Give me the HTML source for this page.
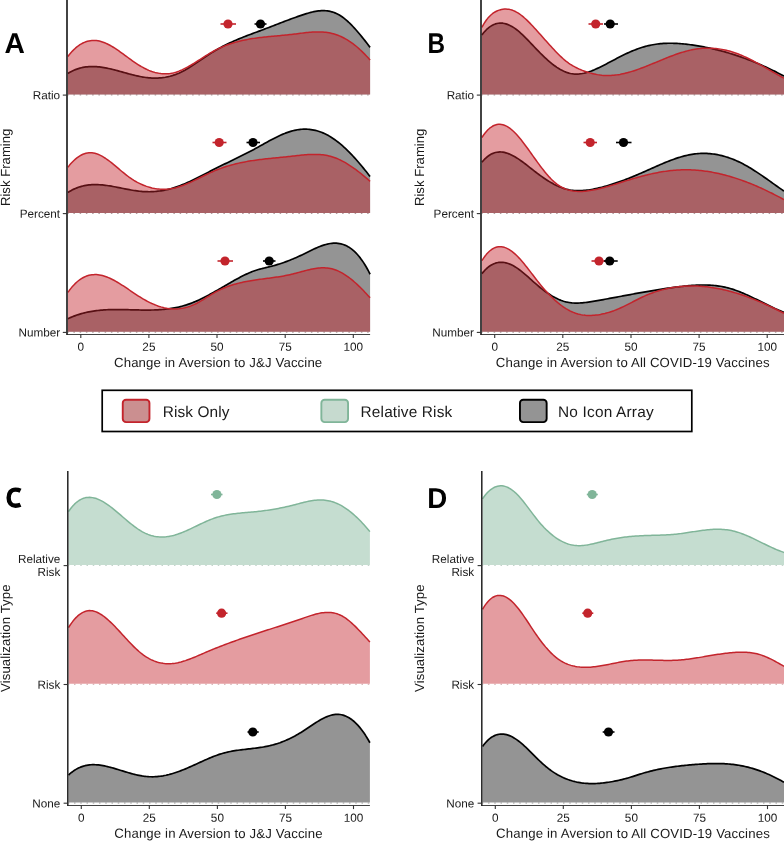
<!DOCTYPE html>
<html><head><meta charset="utf-8"><title>Figure</title>
<style>html,body{margin:0;padding:0;background:#fff}svg{display:block;will-change:transform;opacity:0.999}text{font-family:"Liberation Sans",sans-serif;fill:#1a1a1a;text-rendering:geometricPrecision}</style>
</head><body>
<svg width="784" height="841" viewBox="0 0 784 841">
<rect width="784" height="841" fill="#fff"/>
<!-- Panel A -->
<g>
<path d="M67.9,73.41 L69.4,72.52 L70.9,71.70 L72.4,70.95 L73.9,70.26 L75.4,69.65 L76.9,69.09 L78.4,68.59 L79.9,68.16 L81.4,67.78 L82.9,67.45 L84.4,67.18 L85.9,66.96 L87.4,66.79 L88.9,66.67 L90.4,66.59 L91.9,66.55 L93.4,66.56 L94.9,66.61 L96.4,66.69 L97.9,66.81 L99.4,66.96 L100.9,67.14 L102.4,67.35 L103.9,67.59 L105.4,67.86 L106.9,68.15 L108.4,68.46 L109.9,68.79 L111.4,69.13 L112.9,69.50 L114.4,69.87 L115.9,70.26 L117.4,70.66 L118.9,71.07 L120.4,71.48 L121.9,71.90 L123.4,72.31 L124.9,72.73 L126.4,73.15 L127.9,73.56 L129.4,73.97 L130.9,74.37 L132.4,74.76 L133.9,75.13 L135.4,75.50 L136.9,75.84 L138.4,76.17 L139.9,76.48 L141.4,76.77 L142.9,77.04 L144.4,77.28 L145.9,77.49 L147.4,77.67 L148.9,77.82 L150.4,77.94 L151.9,78.03 L153.4,78.08 L154.9,78.10 L156.4,78.09 L157.9,78.04 L159.4,77.95 L160.9,77.83 L162.4,77.67 L163.9,77.47 L165.4,77.23 L166.9,76.95 L168.4,76.63 L169.9,76.27 L171.4,75.87 L172.9,75.42 L174.4,74.93 L175.9,74.39 L177.4,73.81 L178.9,73.18 L180.4,72.50 L181.9,71.77 L183.4,71.00 L184.9,70.19 L186.4,69.33 L187.9,68.44 L189.4,67.52 L190.9,66.58 L192.4,65.61 L193.9,64.62 L195.4,63.62 L196.9,62.60 L198.4,61.58 L199.9,60.56 L201.4,59.53 L202.9,58.51 L204.4,57.50 L205.9,56.50 L207.4,55.51 L208.9,54.54 L210.4,53.59 L211.9,52.65 L213.4,51.73 L214.9,50.83 L216.4,49.94 L217.9,49.08 L219.4,48.23 L220.9,47.40 L222.4,46.60 L223.9,45.81 L225.4,45.05 L226.9,44.30 L228.4,43.57 L229.9,42.86 L231.4,42.16 L232.9,41.48 L234.4,40.81 L235.9,40.16 L237.4,39.52 L238.9,38.89 L240.4,38.28 L241.9,37.67 L243.4,37.07 L244.9,36.48 L246.4,35.90 L247.9,35.32 L249.4,34.75 L250.9,34.18 L252.4,33.62 L253.9,33.06 L255.4,32.50 L256.9,31.95 L258.4,31.39 L259.9,30.83 L261.4,30.27 L262.9,29.71 L264.4,29.15 L265.9,28.58 L267.4,28.01 L268.9,27.44 L270.4,26.86 L271.9,26.28 L273.4,25.70 L274.9,25.12 L276.4,24.54 L277.9,23.96 L279.4,23.38 L280.9,22.80 L282.4,22.22 L283.9,21.65 L285.4,21.07 L286.9,20.50 L288.4,19.94 L289.9,19.38 L291.4,18.82 L292.9,18.27 L294.4,17.73 L295.9,17.19 L297.4,16.66 L298.9,16.14 L300.4,15.62 L301.9,15.11 L303.4,14.62 L304.9,14.13 L306.4,13.66 L307.9,13.21 L309.4,12.79 L310.9,12.39 L312.4,12.02 L313.9,11.69 L315.4,11.40 L316.9,11.15 L318.4,10.95 L319.9,10.80 L321.4,10.70 L322.9,10.66 L324.4,10.68 L325.9,10.76 L327.4,10.92 L328.9,11.14 L330.4,11.45 L331.9,11.83 L333.4,12.30 L334.9,12.85 L336.4,13.50 L337.9,14.24 L339.4,15.08 L340.9,16.02 L342.4,17.05 L343.9,18.17 L345.4,19.37 L346.9,20.65 L348.4,22.00 L349.9,23.43 L351.4,24.92 L352.9,26.48 L354.4,28.09 L355.9,29.76 L357.4,31.48 L358.9,33.24 L360.4,35.04 L361.9,36.88 L363.4,38.75 L364.9,40.65 L366.4,42.58 L367.9,44.52 L369.4,46.48 L370.1,47.39 L370.1,94.45 L67.9,94.45 Z" fill="#000000" fill-opacity="0.42" stroke="none"/>
<path d="M67.9,73.41 L69.4,72.52 L70.9,71.70 L72.4,70.95 L73.9,70.26 L75.4,69.65 L76.9,69.09 L78.4,68.59 L79.9,68.16 L81.4,67.78 L82.9,67.45 L84.4,67.18 L85.9,66.96 L87.4,66.79 L88.9,66.67 L90.4,66.59 L91.9,66.55 L93.4,66.56 L94.9,66.61 L96.4,66.69 L97.9,66.81 L99.4,66.96 L100.9,67.14 L102.4,67.35 L103.9,67.59 L105.4,67.86 L106.9,68.15 L108.4,68.46 L109.9,68.79 L111.4,69.13 L112.9,69.50 L114.4,69.87 L115.9,70.26 L117.4,70.66 L118.9,71.07 L120.4,71.48 L121.9,71.90 L123.4,72.31 L124.9,72.73 L126.4,73.15 L127.9,73.56 L129.4,73.97 L130.9,74.37 L132.4,74.76 L133.9,75.13 L135.4,75.50 L136.9,75.84 L138.4,76.17 L139.9,76.48 L141.4,76.77 L142.9,77.04 L144.4,77.28 L145.9,77.49 L147.4,77.67 L148.9,77.82 L150.4,77.94 L151.9,78.03 L153.4,78.08 L154.9,78.10 L156.4,78.09 L157.9,78.04 L159.4,77.95 L160.9,77.83 L162.4,77.67 L163.9,77.47 L165.4,77.23 L166.9,76.95 L168.4,76.63 L169.9,76.27 L171.4,75.87 L172.9,75.42 L174.4,74.93 L175.9,74.39 L177.4,73.81 L178.9,73.18 L180.4,72.50 L181.9,71.77 L183.4,71.00 L184.9,70.19 L186.4,69.33 L187.9,68.44 L189.4,67.52 L190.9,66.58 L192.4,65.61 L193.9,64.62 L195.4,63.62 L196.9,62.60 L198.4,61.58 L199.9,60.56 L201.4,59.53 L202.9,58.51 L204.4,57.50 L205.9,56.50 L207.4,55.51 L208.9,54.54 L210.4,53.59 L211.9,52.65 L213.4,51.73 L214.9,50.83 L216.4,49.94 L217.9,49.08 L219.4,48.23 L220.9,47.40 L222.4,46.60 L223.9,45.81 L225.4,45.05 L226.9,44.30 L228.4,43.57 L229.9,42.86 L231.4,42.16 L232.9,41.48 L234.4,40.81 L235.9,40.16 L237.4,39.52 L238.9,38.89 L240.4,38.28 L241.9,37.67 L243.4,37.07 L244.9,36.48 L246.4,35.90 L247.9,35.32 L249.4,34.75 L250.9,34.18 L252.4,33.62 L253.9,33.06 L255.4,32.50 L256.9,31.95 L258.4,31.39 L259.9,30.83 L261.4,30.27 L262.9,29.71 L264.4,29.15 L265.9,28.58 L267.4,28.01 L268.9,27.44 L270.4,26.86 L271.9,26.28 L273.4,25.70 L274.9,25.12 L276.4,24.54 L277.9,23.96 L279.4,23.38 L280.9,22.80 L282.4,22.22 L283.9,21.65 L285.4,21.07 L286.9,20.50 L288.4,19.94 L289.9,19.38 L291.4,18.82 L292.9,18.27 L294.4,17.73 L295.9,17.19 L297.4,16.66 L298.9,16.14 L300.4,15.62 L301.9,15.11 L303.4,14.62 L304.9,14.13 L306.4,13.66 L307.9,13.21 L309.4,12.79 L310.9,12.39 L312.4,12.02 L313.9,11.69 L315.4,11.40 L316.9,11.15 L318.4,10.95 L319.9,10.80 L321.4,10.70 L322.9,10.66 L324.4,10.68 L325.9,10.76 L327.4,10.92 L328.9,11.14 L330.4,11.45 L331.9,11.83 L333.4,12.30 L334.9,12.85 L336.4,13.50 L337.9,14.24 L339.4,15.08 L340.9,16.02 L342.4,17.05 L343.9,18.17 L345.4,19.37 L346.9,20.65 L348.4,22.00 L349.9,23.43 L351.4,24.92 L352.9,26.48 L354.4,28.09 L355.9,29.76 L357.4,31.48 L358.9,33.24 L360.4,35.04 L361.9,36.88 L363.4,38.75 L364.9,40.65 L366.4,42.58 L367.9,44.52 L369.4,46.48 L370.1,47.39" fill="none" stroke="#000000" stroke-width="1.7" stroke-linejoin="round"/>
<path d="M67.9,56.48 L69.4,54.55 L70.9,52.76 L72.4,51.10 L73.9,49.58 L75.4,48.18 L76.9,46.91 L78.4,45.76 L79.9,44.73 L81.4,43.82 L82.9,43.02 L84.4,42.33 L85.9,41.76 L87.4,41.29 L88.9,40.93 L90.4,40.67 L91.9,40.51 L93.4,40.44 L94.9,40.47 L96.4,40.59 L97.9,40.79 L99.4,41.09 L100.9,41.46 L102.4,41.92 L103.9,42.45 L105.4,43.06 L106.9,43.73 L108.4,44.47 L109.9,45.26 L111.4,46.11 L112.9,47.00 L114.4,47.94 L115.9,48.92 L117.4,49.92 L118.9,50.96 L120.4,52.02 L121.9,53.10 L123.4,54.20 L124.9,55.30 L126.4,56.40 L127.9,57.51 L129.4,58.61 L130.9,59.70 L132.4,60.77 L133.9,61.83 L135.4,62.86 L136.9,63.86 L138.4,64.82 L139.9,65.74 L141.4,66.63 L142.9,67.46 L144.4,68.25 L145.9,68.99 L147.4,69.69 L148.9,70.34 L150.4,70.93 L151.9,71.47 L153.4,71.96 L154.9,72.40 L156.4,72.78 L157.9,73.10 L159.4,73.37 L160.9,73.58 L162.4,73.73 L163.9,73.82 L165.4,73.84 L166.9,73.80 L168.4,73.70 L169.9,73.53 L171.4,73.29 L172.9,72.99 L174.4,72.62 L175.9,72.19 L177.4,71.69 L178.9,71.14 L180.4,70.54 L181.9,69.88 L183.4,69.18 L184.9,68.44 L186.4,67.66 L187.9,66.85 L189.4,66.01 L190.9,65.14 L192.4,64.24 L193.9,63.33 L195.4,62.39 L196.9,61.45 L198.4,60.50 L199.9,59.54 L201.4,58.58 L202.9,57.62 L204.4,56.67 L205.9,55.72 L207.4,54.79 L208.9,53.88 L210.4,52.98 L211.9,52.11 L213.4,51.27 L214.9,50.46 L216.4,49.68 L217.9,48.93 L219.4,48.22 L220.9,47.53 L222.4,46.87 L223.9,46.24 L225.4,45.64 L226.9,45.06 L228.4,44.51 L229.9,43.99 L231.4,43.49 L232.9,43.01 L234.4,42.56 L235.9,42.13 L237.4,41.72 L238.9,41.33 L240.4,40.96 L241.9,40.60 L243.4,40.27 L244.9,39.95 L246.4,39.66 L247.9,39.37 L249.4,39.10 L250.9,38.85 L252.4,38.61 L253.9,38.38 L255.4,38.16 L256.9,37.95 L258.4,37.76 L259.9,37.57 L261.4,37.40 L262.9,37.23 L264.4,37.06 L265.9,36.91 L267.4,36.75 L268.9,36.61 L270.4,36.47 L271.9,36.33 L273.4,36.19 L274.9,36.05 L276.4,35.92 L277.9,35.78 L279.4,35.65 L280.9,35.51 L282.4,35.37 L283.9,35.23 L285.4,35.08 L286.9,34.93 L288.4,34.78 L289.9,34.61 L291.4,34.44 L292.9,34.26 L294.4,34.08 L295.9,33.89 L297.4,33.70 L298.9,33.50 L300.4,33.31 L301.9,33.12 L303.4,32.94 L304.9,32.77 L306.4,32.60 L307.9,32.45 L309.4,32.32 L310.9,32.20 L312.4,32.09 L313.9,32.01 L315.4,31.95 L316.9,31.92 L318.4,31.91 L319.9,31.94 L321.4,31.99 L322.9,32.08 L324.4,32.20 L325.9,32.37 L327.4,32.57 L328.9,32.81 L330.4,33.10 L331.9,33.43 L333.4,33.82 L334.9,34.25 L336.4,34.74 L337.9,35.28 L339.4,35.87 L340.9,36.52 L342.4,37.22 L343.9,37.98 L345.4,38.79 L346.9,39.66 L348.4,40.58 L349.9,41.56 L351.4,42.59 L352.9,43.68 L354.4,44.82 L355.9,46.02 L357.4,47.27 L358.9,48.58 L360.4,49.95 L361.9,51.37 L363.4,52.85 L364.9,54.38 L366.4,55.97 L367.9,57.62 L369.4,59.32 L370.1,60.13 L370.1,94.45 L67.9,94.45 Z" fill="#C3242C" fill-opacity="0.45" stroke="none"/>
<path d="M67.9,56.48 L69.4,54.55 L70.9,52.76 L72.4,51.10 L73.9,49.58 L75.4,48.18 L76.9,46.91 L78.4,45.76 L79.9,44.73 L81.4,43.82 L82.9,43.02 L84.4,42.33 L85.9,41.76 L87.4,41.29 L88.9,40.93 L90.4,40.67 L91.9,40.51 L93.4,40.44 L94.9,40.47 L96.4,40.59 L97.9,40.79 L99.4,41.09 L100.9,41.46 L102.4,41.92 L103.9,42.45 L105.4,43.06 L106.9,43.73 L108.4,44.47 L109.9,45.26 L111.4,46.11 L112.9,47.00 L114.4,47.94 L115.9,48.92 L117.4,49.92 L118.9,50.96 L120.4,52.02 L121.9,53.10 L123.4,54.20 L124.9,55.30 L126.4,56.40 L127.9,57.51 L129.4,58.61 L130.9,59.70 L132.4,60.77 L133.9,61.83 L135.4,62.86 L136.9,63.86 L138.4,64.82 L139.9,65.74 L141.4,66.63 L142.9,67.46 L144.4,68.25 L145.9,68.99 L147.4,69.69 L148.9,70.34 L150.4,70.93 L151.9,71.47 L153.4,71.96 L154.9,72.40 L156.4,72.78 L157.9,73.10 L159.4,73.37 L160.9,73.58 L162.4,73.73 L163.9,73.82 L165.4,73.84 L166.9,73.80 L168.4,73.70 L169.9,73.53 L171.4,73.29 L172.9,72.99 L174.4,72.62 L175.9,72.19 L177.4,71.69 L178.9,71.14 L180.4,70.54 L181.9,69.88 L183.4,69.18 L184.9,68.44 L186.4,67.66 L187.9,66.85 L189.4,66.01 L190.9,65.14 L192.4,64.24 L193.9,63.33 L195.4,62.39 L196.9,61.45 L198.4,60.50 L199.9,59.54 L201.4,58.58 L202.9,57.62 L204.4,56.67 L205.9,55.72 L207.4,54.79 L208.9,53.88 L210.4,52.98 L211.9,52.11 L213.4,51.27 L214.9,50.46 L216.4,49.68 L217.9,48.93 L219.4,48.22 L220.9,47.53 L222.4,46.87 L223.9,46.24 L225.4,45.64 L226.9,45.06 L228.4,44.51 L229.9,43.99 L231.4,43.49 L232.9,43.01 L234.4,42.56 L235.9,42.13 L237.4,41.72 L238.9,41.33 L240.4,40.96 L241.9,40.60 L243.4,40.27 L244.9,39.95 L246.4,39.66 L247.9,39.37 L249.4,39.10 L250.9,38.85 L252.4,38.61 L253.9,38.38 L255.4,38.16 L256.9,37.95 L258.4,37.76 L259.9,37.57 L261.4,37.40 L262.9,37.23 L264.4,37.06 L265.9,36.91 L267.4,36.75 L268.9,36.61 L270.4,36.47 L271.9,36.33 L273.4,36.19 L274.9,36.05 L276.4,35.92 L277.9,35.78 L279.4,35.65 L280.9,35.51 L282.4,35.37 L283.9,35.23 L285.4,35.08 L286.9,34.93 L288.4,34.78 L289.9,34.61 L291.4,34.44 L292.9,34.26 L294.4,34.08 L295.9,33.89 L297.4,33.70 L298.9,33.50 L300.4,33.31 L301.9,33.12 L303.4,32.94 L304.9,32.77 L306.4,32.60 L307.9,32.45 L309.4,32.32 L310.9,32.20 L312.4,32.09 L313.9,32.01 L315.4,31.95 L316.9,31.92 L318.4,31.91 L319.9,31.94 L321.4,31.99 L322.9,32.08 L324.4,32.20 L325.9,32.37 L327.4,32.57 L328.9,32.81 L330.4,33.10 L331.9,33.43 L333.4,33.82 L334.9,34.25 L336.4,34.74 L337.9,35.28 L339.4,35.87 L340.9,36.52 L342.4,37.22 L343.9,37.98 L345.4,38.79 L346.9,39.66 L348.4,40.58 L349.9,41.56 L351.4,42.59 L352.9,43.68 L354.4,44.82 L355.9,46.02 L357.4,47.27 L358.9,48.58 L360.4,49.95 L361.9,51.37 L363.4,52.85 L364.9,54.38 L366.4,55.97 L367.9,57.62 L369.4,59.32 L370.1,60.13" fill="none" stroke="#C3242C" stroke-width="1.5" stroke-linejoin="round"/>
<line x1="67.9" y1="95.00" x2="370.1" y2="95.00" stroke="#5b3035" stroke-opacity="0.7" stroke-width="0.7" stroke-dasharray="1.5 4.75" stroke-dashoffset="0.75"/>
<path d="M67.9,192.43 L69.4,191.50 L70.9,190.64 L72.4,189.85 L73.9,189.12 L75.4,188.45 L76.9,187.85 L78.4,187.30 L79.9,186.81 L81.4,186.38 L82.9,186.00 L84.4,185.67 L85.9,185.38 L87.4,185.15 L88.9,184.96 L90.4,184.82 L91.9,184.71 L93.4,184.65 L94.9,184.62 L96.4,184.63 L97.9,184.67 L99.4,184.74 L100.9,184.84 L102.4,184.97 L103.9,185.12 L105.4,185.30 L106.9,185.50 L108.4,185.72 L109.9,185.95 L111.4,186.20 L112.9,186.47 L114.4,186.74 L115.9,187.03 L117.4,187.32 L118.9,187.62 L120.4,187.92 L121.9,188.22 L123.4,188.53 L124.9,188.83 L126.4,189.12 L127.9,189.41 L129.4,189.70 L130.9,189.97 L132.4,190.23 L133.9,190.47 L135.4,190.70 L136.9,190.91 L138.4,191.10 L139.9,191.27 L141.4,191.41 L142.9,191.53 L144.4,191.62 L145.9,191.69 L147.4,191.72 L148.9,191.73 L150.4,191.72 L151.9,191.67 L153.4,191.60 L154.9,191.50 L156.4,191.37 L157.9,191.21 L159.4,191.03 L160.9,190.82 L162.4,190.58 L163.9,190.31 L165.4,190.01 L166.9,189.69 L168.4,189.33 L169.9,188.95 L171.4,188.54 L172.9,188.10 L174.4,187.63 L175.9,187.13 L177.4,186.61 L178.9,186.06 L180.4,185.49 L181.9,184.90 L183.4,184.29 L184.9,183.66 L186.4,183.01 L187.9,182.34 L189.4,181.65 L190.9,180.96 L192.4,180.24 L193.9,179.52 L195.4,178.79 L196.9,178.04 L198.4,177.29 L199.9,176.53 L201.4,175.76 L202.9,174.99 L204.4,174.22 L205.9,173.45 L207.4,172.67 L208.9,171.89 L210.4,171.12 L211.9,170.35 L213.4,169.58 L214.9,168.82 L216.4,168.07 L217.9,167.32 L219.4,166.57 L220.9,165.83 L222.4,165.09 L223.9,164.36 L225.4,163.63 L226.9,162.89 L228.4,162.16 L229.9,161.44 L231.4,160.71 L232.9,159.98 L234.4,159.25 L235.9,158.51 L237.4,157.78 L238.9,157.04 L240.4,156.30 L241.9,155.55 L243.4,154.81 L244.9,154.05 L246.4,153.29 L247.9,152.52 L249.4,151.75 L250.9,150.97 L252.4,150.18 L253.9,149.38 L255.4,148.57 L256.9,147.76 L258.4,146.93 L259.9,146.10 L261.4,145.26 L262.9,144.43 L264.4,143.59 L265.9,142.76 L267.4,141.93 L268.9,141.11 L270.4,140.30 L271.9,139.49 L273.4,138.71 L274.9,137.94 L276.4,137.18 L277.9,136.45 L279.4,135.74 L280.9,135.06 L282.4,134.40 L283.9,133.77 L285.4,133.17 L286.9,132.61 L288.4,132.08 L289.9,131.59 L291.4,131.14 L292.9,130.73 L294.4,130.37 L295.9,130.05 L297.4,129.78 L298.9,129.56 L300.4,129.39 L301.9,129.27 L303.4,129.19 L304.9,129.16 L306.4,129.19 L307.9,129.26 L309.4,129.39 L310.9,129.57 L312.4,129.79 L313.9,130.07 L315.4,130.41 L316.9,130.80 L318.4,131.24 L319.9,131.73 L321.4,132.28 L322.9,132.88 L324.4,133.54 L325.9,134.26 L327.4,135.03 L328.9,135.86 L330.4,136.75 L331.9,137.69 L333.4,138.68 L334.9,139.73 L336.4,140.83 L337.9,141.98 L339.4,143.18 L340.9,144.42 L342.4,145.72 L343.9,147.06 L345.4,148.44 L346.9,149.87 L348.4,151.34 L349.9,152.85 L351.4,154.40 L352.9,155.99 L354.4,157.62 L355.9,159.28 L357.4,160.98 L358.9,162.71 L360.4,164.47 L361.9,166.27 L363.4,168.09 L364.9,169.95 L366.4,171.83 L367.9,173.74 L369.4,175.67 L370.1,176.58 L370.1,212.95 L67.9,212.95 Z" fill="#000000" fill-opacity="0.42" stroke="none"/>
<path d="M67.9,192.43 L69.4,191.50 L70.9,190.64 L72.4,189.85 L73.9,189.12 L75.4,188.45 L76.9,187.85 L78.4,187.30 L79.9,186.81 L81.4,186.38 L82.9,186.00 L84.4,185.67 L85.9,185.38 L87.4,185.15 L88.9,184.96 L90.4,184.82 L91.9,184.71 L93.4,184.65 L94.9,184.62 L96.4,184.63 L97.9,184.67 L99.4,184.74 L100.9,184.84 L102.4,184.97 L103.9,185.12 L105.4,185.30 L106.9,185.50 L108.4,185.72 L109.9,185.95 L111.4,186.20 L112.9,186.47 L114.4,186.74 L115.9,187.03 L117.4,187.32 L118.9,187.62 L120.4,187.92 L121.9,188.22 L123.4,188.53 L124.9,188.83 L126.4,189.12 L127.9,189.41 L129.4,189.70 L130.9,189.97 L132.4,190.23 L133.9,190.47 L135.4,190.70 L136.9,190.91 L138.4,191.10 L139.9,191.27 L141.4,191.41 L142.9,191.53 L144.4,191.62 L145.9,191.69 L147.4,191.72 L148.9,191.73 L150.4,191.72 L151.9,191.67 L153.4,191.60 L154.9,191.50 L156.4,191.37 L157.9,191.21 L159.4,191.03 L160.9,190.82 L162.4,190.58 L163.9,190.31 L165.4,190.01 L166.9,189.69 L168.4,189.33 L169.9,188.95 L171.4,188.54 L172.9,188.10 L174.4,187.63 L175.9,187.13 L177.4,186.61 L178.9,186.06 L180.4,185.49 L181.9,184.90 L183.4,184.29 L184.9,183.66 L186.4,183.01 L187.9,182.34 L189.4,181.65 L190.9,180.96 L192.4,180.24 L193.9,179.52 L195.4,178.79 L196.9,178.04 L198.4,177.29 L199.9,176.53 L201.4,175.76 L202.9,174.99 L204.4,174.22 L205.9,173.45 L207.4,172.67 L208.9,171.89 L210.4,171.12 L211.9,170.35 L213.4,169.58 L214.9,168.82 L216.4,168.07 L217.9,167.32 L219.4,166.57 L220.9,165.83 L222.4,165.09 L223.9,164.36 L225.4,163.63 L226.9,162.89 L228.4,162.16 L229.9,161.44 L231.4,160.71 L232.9,159.98 L234.4,159.25 L235.9,158.51 L237.4,157.78 L238.9,157.04 L240.4,156.30 L241.9,155.55 L243.4,154.81 L244.9,154.05 L246.4,153.29 L247.9,152.52 L249.4,151.75 L250.9,150.97 L252.4,150.18 L253.9,149.38 L255.4,148.57 L256.9,147.76 L258.4,146.93 L259.9,146.10 L261.4,145.26 L262.9,144.43 L264.4,143.59 L265.9,142.76 L267.4,141.93 L268.9,141.11 L270.4,140.30 L271.9,139.49 L273.4,138.71 L274.9,137.94 L276.4,137.18 L277.9,136.45 L279.4,135.74 L280.9,135.06 L282.4,134.40 L283.9,133.77 L285.4,133.17 L286.9,132.61 L288.4,132.08 L289.9,131.59 L291.4,131.14 L292.9,130.73 L294.4,130.37 L295.9,130.05 L297.4,129.78 L298.9,129.56 L300.4,129.39 L301.9,129.27 L303.4,129.19 L304.9,129.16 L306.4,129.19 L307.9,129.26 L309.4,129.39 L310.9,129.57 L312.4,129.79 L313.9,130.07 L315.4,130.41 L316.9,130.80 L318.4,131.24 L319.9,131.73 L321.4,132.28 L322.9,132.88 L324.4,133.54 L325.9,134.26 L327.4,135.03 L328.9,135.86 L330.4,136.75 L331.9,137.69 L333.4,138.68 L334.9,139.73 L336.4,140.83 L337.9,141.98 L339.4,143.18 L340.9,144.42 L342.4,145.72 L343.9,147.06 L345.4,148.44 L346.9,149.87 L348.4,151.34 L349.9,152.85 L351.4,154.40 L352.9,155.99 L354.4,157.62 L355.9,159.28 L357.4,160.98 L358.9,162.71 L360.4,164.47 L361.9,166.27 L363.4,168.09 L364.9,169.95 L366.4,171.83 L367.9,173.74 L369.4,175.67 L370.1,176.58" fill="none" stroke="#000000" stroke-width="1.7" stroke-linejoin="round"/>
<path d="M67.9,167.22 L69.4,165.35 L70.9,163.61 L72.4,162.00 L73.9,160.51 L75.4,159.15 L76.9,157.92 L78.4,156.82 L79.9,155.84 L81.4,155.00 L82.9,154.28 L84.4,153.70 L85.9,153.24 L87.4,152.91 L88.9,152.72 L90.4,152.65 L91.9,152.72 L93.4,152.91 L94.9,153.23 L96.4,153.66 L97.9,154.20 L99.4,154.84 L100.9,155.57 L102.4,156.39 L103.9,157.29 L105.4,158.25 L106.9,159.28 L108.4,160.37 L109.9,161.50 L111.4,162.68 L112.9,163.89 L114.4,165.13 L115.9,166.38 L117.4,167.65 L118.9,168.93 L120.4,170.20 L121.9,171.46 L123.4,172.70 L124.9,173.92 L126.4,175.11 L127.9,176.26 L129.4,177.36 L130.9,178.40 L132.4,179.40 L133.9,180.34 L135.4,181.23 L136.9,182.07 L138.4,182.86 L139.9,183.60 L141.4,184.30 L142.9,184.94 L144.4,185.55 L145.9,186.11 L147.4,186.62 L148.9,187.09 L150.4,187.51 L151.9,187.90 L153.4,188.23 L154.9,188.52 L156.4,188.76 L157.9,188.96 L159.4,189.11 L160.9,189.22 L162.4,189.28 L163.9,189.29 L165.4,189.25 L166.9,189.17 L168.4,189.04 L169.9,188.86 L171.4,188.63 L172.9,188.36 L174.4,188.03 L175.9,187.66 L177.4,187.25 L178.9,186.80 L180.4,186.32 L181.9,185.79 L183.4,185.24 L184.9,184.65 L186.4,184.04 L187.9,183.40 L189.4,182.75 L190.9,182.07 L192.4,181.37 L193.9,180.66 L195.4,179.94 L196.9,179.21 L198.4,178.48 L199.9,177.74 L201.4,176.99 L202.9,176.25 L204.4,175.52 L205.9,174.79 L207.4,174.06 L208.9,173.35 L210.4,172.66 L211.9,171.98 L213.4,171.32 L214.9,170.68 L216.4,170.06 L217.9,169.46 L219.4,168.89 L220.9,168.34 L222.4,167.80 L223.9,167.29 L225.4,166.80 L226.9,166.32 L228.4,165.87 L229.9,165.43 L231.4,165.01 L232.9,164.60 L234.4,164.21 L235.9,163.84 L237.4,163.48 L238.9,163.14 L240.4,162.81 L241.9,162.49 L243.4,162.19 L244.9,161.90 L246.4,161.62 L247.9,161.36 L249.4,161.10 L250.9,160.85 L252.4,160.62 L253.9,160.39 L255.4,160.18 L256.9,159.97 L258.4,159.77 L259.9,159.57 L261.4,159.39 L262.9,159.21 L264.4,159.03 L265.9,158.86 L267.4,158.70 L268.9,158.53 L270.4,158.38 L271.9,158.22 L273.4,158.07 L274.9,157.92 L276.4,157.77 L277.9,157.63 L279.4,157.48 L280.9,157.33 L282.4,157.19 L283.9,157.04 L285.4,156.89 L286.9,156.74 L288.4,156.58 L289.9,156.42 L291.4,156.26 L292.9,156.09 L294.4,155.93 L295.9,155.76 L297.4,155.59 L298.9,155.42 L300.4,155.26 L301.9,155.11 L303.4,154.96 L304.9,154.83 L306.4,154.71 L307.9,154.60 L309.4,154.52 L310.9,154.45 L312.4,154.40 L313.9,154.38 L315.4,154.38 L316.9,154.41 L318.4,154.48 L319.9,154.57 L321.4,154.70 L322.9,154.86 L324.4,155.06 L325.9,155.30 L327.4,155.59 L328.9,155.91 L330.4,156.29 L331.9,156.71 L333.4,157.18 L334.9,157.71 L336.4,158.29 L337.9,158.91 L339.4,159.58 L340.9,160.30 L342.4,161.07 L343.9,161.88 L345.4,162.72 L346.9,163.61 L348.4,164.54 L349.9,165.51 L351.4,166.51 L352.9,167.54 L354.4,168.61 L355.9,169.71 L357.4,170.84 L358.9,171.99 L360.4,173.17 L361.9,174.38 L363.4,175.61 L364.9,176.87 L366.4,178.14 L367.9,179.43 L369.4,180.74 L370.1,181.36 L370.1,212.95 L67.9,212.95 Z" fill="#C3242C" fill-opacity="0.45" stroke="none"/>
<path d="M67.9,167.22 L69.4,165.35 L70.9,163.61 L72.4,162.00 L73.9,160.51 L75.4,159.15 L76.9,157.92 L78.4,156.82 L79.9,155.84 L81.4,155.00 L82.9,154.28 L84.4,153.70 L85.9,153.24 L87.4,152.91 L88.9,152.72 L90.4,152.65 L91.9,152.72 L93.4,152.91 L94.9,153.23 L96.4,153.66 L97.9,154.20 L99.4,154.84 L100.9,155.57 L102.4,156.39 L103.9,157.29 L105.4,158.25 L106.9,159.28 L108.4,160.37 L109.9,161.50 L111.4,162.68 L112.9,163.89 L114.4,165.13 L115.9,166.38 L117.4,167.65 L118.9,168.93 L120.4,170.20 L121.9,171.46 L123.4,172.70 L124.9,173.92 L126.4,175.11 L127.9,176.26 L129.4,177.36 L130.9,178.40 L132.4,179.40 L133.9,180.34 L135.4,181.23 L136.9,182.07 L138.4,182.86 L139.9,183.60 L141.4,184.30 L142.9,184.94 L144.4,185.55 L145.9,186.11 L147.4,186.62 L148.9,187.09 L150.4,187.51 L151.9,187.90 L153.4,188.23 L154.9,188.52 L156.4,188.76 L157.9,188.96 L159.4,189.11 L160.9,189.22 L162.4,189.28 L163.9,189.29 L165.4,189.25 L166.9,189.17 L168.4,189.04 L169.9,188.86 L171.4,188.63 L172.9,188.36 L174.4,188.03 L175.9,187.66 L177.4,187.25 L178.9,186.80 L180.4,186.32 L181.9,185.79 L183.4,185.24 L184.9,184.65 L186.4,184.04 L187.9,183.40 L189.4,182.75 L190.9,182.07 L192.4,181.37 L193.9,180.66 L195.4,179.94 L196.9,179.21 L198.4,178.48 L199.9,177.74 L201.4,176.99 L202.9,176.25 L204.4,175.52 L205.9,174.79 L207.4,174.06 L208.9,173.35 L210.4,172.66 L211.9,171.98 L213.4,171.32 L214.9,170.68 L216.4,170.06 L217.9,169.46 L219.4,168.89 L220.9,168.34 L222.4,167.80 L223.9,167.29 L225.4,166.80 L226.9,166.32 L228.4,165.87 L229.9,165.43 L231.4,165.01 L232.9,164.60 L234.4,164.21 L235.9,163.84 L237.4,163.48 L238.9,163.14 L240.4,162.81 L241.9,162.49 L243.4,162.19 L244.9,161.90 L246.4,161.62 L247.9,161.36 L249.4,161.10 L250.9,160.85 L252.4,160.62 L253.9,160.39 L255.4,160.18 L256.9,159.97 L258.4,159.77 L259.9,159.57 L261.4,159.39 L262.9,159.21 L264.4,159.03 L265.9,158.86 L267.4,158.70 L268.9,158.53 L270.4,158.38 L271.9,158.22 L273.4,158.07 L274.9,157.92 L276.4,157.77 L277.9,157.63 L279.4,157.48 L280.9,157.33 L282.4,157.19 L283.9,157.04 L285.4,156.89 L286.9,156.74 L288.4,156.58 L289.9,156.42 L291.4,156.26 L292.9,156.09 L294.4,155.93 L295.9,155.76 L297.4,155.59 L298.9,155.42 L300.4,155.26 L301.9,155.11 L303.4,154.96 L304.9,154.83 L306.4,154.71 L307.9,154.60 L309.4,154.52 L310.9,154.45 L312.4,154.40 L313.9,154.38 L315.4,154.38 L316.9,154.41 L318.4,154.48 L319.9,154.57 L321.4,154.70 L322.9,154.86 L324.4,155.06 L325.9,155.30 L327.4,155.59 L328.9,155.91 L330.4,156.29 L331.9,156.71 L333.4,157.18 L334.9,157.71 L336.4,158.29 L337.9,158.91 L339.4,159.58 L340.9,160.30 L342.4,161.07 L343.9,161.88 L345.4,162.72 L346.9,163.61 L348.4,164.54 L349.9,165.51 L351.4,166.51 L352.9,167.54 L354.4,168.61 L355.9,169.71 L357.4,170.84 L358.9,171.99 L360.4,173.17 L361.9,174.38 L363.4,175.61 L364.9,176.87 L366.4,178.14 L367.9,179.43 L369.4,180.74 L370.1,181.36" fill="none" stroke="#C3242C" stroke-width="1.5" stroke-linejoin="round"/>
<line x1="67.9" y1="213.50" x2="370.1" y2="213.50" stroke="#5b3035" stroke-opacity="0.7" stroke-width="0.7" stroke-dasharray="1.5 4.75" stroke-dashoffset="0.75"/>
<path d="M67.9,318.70 L69.4,318.01 L70.9,317.36 L72.4,316.74 L73.9,316.15 L75.4,315.59 L76.9,315.07 L78.4,314.57 L79.9,314.11 L81.4,313.67 L82.9,313.26 L84.4,312.87 L85.9,312.52 L87.4,312.18 L88.9,311.88 L90.4,311.59 L91.9,311.33 L93.4,311.09 L94.9,310.87 L96.4,310.67 L97.9,310.49 L99.4,310.33 L100.9,310.19 L102.4,310.06 L103.9,309.95 L105.4,309.85 L106.9,309.77 L108.4,309.71 L109.9,309.65 L111.4,309.61 L112.9,309.58 L114.4,309.56 L115.9,309.55 L117.4,309.54 L118.9,309.55 L120.4,309.56 L121.9,309.58 L123.4,309.61 L124.9,309.63 L126.4,309.67 L127.9,309.70 L129.4,309.74 L130.9,309.78 L132.4,309.82 L133.9,309.86 L135.4,309.90 L136.9,309.94 L138.4,309.97 L139.9,310.00 L141.4,310.03 L142.9,310.05 L144.4,310.07 L145.9,310.07 L147.4,310.08 L148.9,310.07 L150.4,310.05 L151.9,310.02 L153.4,309.99 L154.9,309.94 L156.4,309.88 L157.9,309.80 L159.4,309.71 L160.9,309.61 L162.4,309.49 L163.9,309.36 L165.4,309.20 L166.9,309.03 L168.4,308.85 L169.9,308.64 L171.4,308.41 L172.9,308.17 L174.4,307.90 L175.9,307.61 L177.4,307.30 L178.9,306.96 L180.4,306.60 L181.9,306.21 L183.4,305.80 L184.9,305.36 L186.4,304.90 L187.9,304.40 L189.4,303.88 L190.9,303.33 L192.4,302.75 L193.9,302.14 L195.4,301.51 L196.9,300.86 L198.4,300.18 L199.9,299.48 L201.4,298.76 L202.9,298.02 L204.4,297.27 L205.9,296.50 L207.4,295.71 L208.9,294.91 L210.4,294.09 L211.9,293.27 L213.4,292.43 L214.9,291.59 L216.4,290.73 L217.9,289.87 L219.4,289.01 L220.9,288.14 L222.4,287.27 L223.9,286.40 L225.4,285.53 L226.9,284.65 L228.4,283.79 L229.9,282.92 L231.4,282.06 L232.9,281.20 L234.4,280.36 L235.9,279.52 L237.4,278.70 L238.9,277.89 L240.4,277.10 L241.9,276.32 L243.4,275.57 L244.9,274.83 L246.4,274.12 L247.9,273.44 L249.4,272.79 L250.9,272.16 L252.4,271.57 L253.9,271.01 L255.4,270.48 L256.9,269.99 L258.4,269.54 L259.9,269.12 L261.4,268.72 L262.9,268.33 L264.4,267.96 L265.9,267.60 L267.4,267.24 L268.9,266.88 L270.4,266.51 L271.9,266.13 L273.4,265.73 L274.9,265.32 L276.4,264.88 L277.9,264.43 L279.4,263.96 L280.9,263.47 L282.4,262.96 L283.9,262.44 L285.4,261.90 L286.9,261.34 L288.4,260.77 L289.9,260.18 L291.4,259.58 L292.9,258.96 L294.4,258.32 L295.9,257.67 L297.4,257.00 L298.9,256.32 L300.4,255.62 L301.9,254.91 L303.4,254.19 L304.9,253.45 L306.4,252.71 L307.9,251.97 L309.4,251.23 L310.9,250.49 L312.4,249.77 L313.9,249.06 L315.4,248.38 L316.9,247.71 L318.4,247.08 L319.9,246.47 L321.4,245.91 L322.9,245.38 L324.4,244.90 L325.9,244.47 L327.4,244.10 L328.9,243.78 L330.4,243.52 L331.9,243.33 L333.4,243.22 L334.9,243.18 L336.4,243.21 L337.9,243.33 L339.4,243.54 L340.9,243.85 L342.4,244.24 L343.9,244.74 L345.4,245.35 L346.9,246.06 L348.4,246.89 L349.9,247.84 L351.4,248.91 L352.9,250.10 L354.4,251.43 L355.9,252.89 L357.4,254.50 L358.9,256.24 L360.4,258.14 L361.9,260.18 L363.4,262.39 L364.9,264.75 L366.4,267.28 L367.9,269.98 L369.4,272.85 L370.1,274.25 L370.1,331.70 L67.9,331.70 Z" fill="#000000" fill-opacity="0.42" stroke="none"/>
<path d="M67.9,318.70 L69.4,318.01 L70.9,317.36 L72.4,316.74 L73.9,316.15 L75.4,315.59 L76.9,315.07 L78.4,314.57 L79.9,314.11 L81.4,313.67 L82.9,313.26 L84.4,312.87 L85.9,312.52 L87.4,312.18 L88.9,311.88 L90.4,311.59 L91.9,311.33 L93.4,311.09 L94.9,310.87 L96.4,310.67 L97.9,310.49 L99.4,310.33 L100.9,310.19 L102.4,310.06 L103.9,309.95 L105.4,309.85 L106.9,309.77 L108.4,309.71 L109.9,309.65 L111.4,309.61 L112.9,309.58 L114.4,309.56 L115.9,309.55 L117.4,309.54 L118.9,309.55 L120.4,309.56 L121.9,309.58 L123.4,309.61 L124.9,309.63 L126.4,309.67 L127.9,309.70 L129.4,309.74 L130.9,309.78 L132.4,309.82 L133.9,309.86 L135.4,309.90 L136.9,309.94 L138.4,309.97 L139.9,310.00 L141.4,310.03 L142.9,310.05 L144.4,310.07 L145.9,310.07 L147.4,310.08 L148.9,310.07 L150.4,310.05 L151.9,310.02 L153.4,309.99 L154.9,309.94 L156.4,309.88 L157.9,309.80 L159.4,309.71 L160.9,309.61 L162.4,309.49 L163.9,309.36 L165.4,309.20 L166.9,309.03 L168.4,308.85 L169.9,308.64 L171.4,308.41 L172.9,308.17 L174.4,307.90 L175.9,307.61 L177.4,307.30 L178.9,306.96 L180.4,306.60 L181.9,306.21 L183.4,305.80 L184.9,305.36 L186.4,304.90 L187.9,304.40 L189.4,303.88 L190.9,303.33 L192.4,302.75 L193.9,302.14 L195.4,301.51 L196.9,300.86 L198.4,300.18 L199.9,299.48 L201.4,298.76 L202.9,298.02 L204.4,297.27 L205.9,296.50 L207.4,295.71 L208.9,294.91 L210.4,294.09 L211.9,293.27 L213.4,292.43 L214.9,291.59 L216.4,290.73 L217.9,289.87 L219.4,289.01 L220.9,288.14 L222.4,287.27 L223.9,286.40 L225.4,285.53 L226.9,284.65 L228.4,283.79 L229.9,282.92 L231.4,282.06 L232.9,281.20 L234.4,280.36 L235.9,279.52 L237.4,278.70 L238.9,277.89 L240.4,277.10 L241.9,276.32 L243.4,275.57 L244.9,274.83 L246.4,274.12 L247.9,273.44 L249.4,272.79 L250.9,272.16 L252.4,271.57 L253.9,271.01 L255.4,270.48 L256.9,269.99 L258.4,269.54 L259.9,269.12 L261.4,268.72 L262.9,268.33 L264.4,267.96 L265.9,267.60 L267.4,267.24 L268.9,266.88 L270.4,266.51 L271.9,266.13 L273.4,265.73 L274.9,265.32 L276.4,264.88 L277.9,264.43 L279.4,263.96 L280.9,263.47 L282.4,262.96 L283.9,262.44 L285.4,261.90 L286.9,261.34 L288.4,260.77 L289.9,260.18 L291.4,259.58 L292.9,258.96 L294.4,258.32 L295.9,257.67 L297.4,257.00 L298.9,256.32 L300.4,255.62 L301.9,254.91 L303.4,254.19 L304.9,253.45 L306.4,252.71 L307.9,251.97 L309.4,251.23 L310.9,250.49 L312.4,249.77 L313.9,249.06 L315.4,248.38 L316.9,247.71 L318.4,247.08 L319.9,246.47 L321.4,245.91 L322.9,245.38 L324.4,244.90 L325.9,244.47 L327.4,244.10 L328.9,243.78 L330.4,243.52 L331.9,243.33 L333.4,243.22 L334.9,243.18 L336.4,243.21 L337.9,243.33 L339.4,243.54 L340.9,243.85 L342.4,244.24 L343.9,244.74 L345.4,245.35 L346.9,246.06 L348.4,246.89 L349.9,247.84 L351.4,248.91 L352.9,250.10 L354.4,251.43 L355.9,252.89 L357.4,254.50 L358.9,256.24 L360.4,258.14 L361.9,260.18 L363.4,262.39 L364.9,264.75 L366.4,267.28 L367.9,269.98 L369.4,272.85 L370.1,274.25" fill="none" stroke="#000000" stroke-width="1.7" stroke-linejoin="round"/>
<path d="M67.9,292.42 L69.4,290.32 L70.9,288.37 L72.4,286.57 L73.9,284.91 L75.4,283.38 L76.9,282.00 L78.4,280.74 L79.9,279.62 L81.4,278.62 L82.9,277.73 L84.4,276.97 L85.9,276.32 L87.4,275.78 L88.9,275.34 L90.4,275.01 L91.9,274.77 L93.4,274.63 L94.9,274.58 L96.4,274.62 L97.9,274.74 L99.4,274.94 L100.9,275.22 L102.4,275.57 L103.9,275.99 L105.4,276.47 L106.9,277.02 L108.4,277.62 L109.9,278.27 L111.4,278.98 L112.9,279.73 L114.4,280.53 L115.9,281.36 L117.4,282.23 L118.9,283.13 L120.4,284.06 L121.9,285.01 L123.4,285.98 L124.9,286.97 L126.4,287.97 L127.9,288.98 L129.4,290.00 L130.9,291.02 L132.4,292.04 L133.9,293.05 L135.4,294.05 L136.9,295.04 L138.4,296.01 L139.9,296.96 L141.4,297.89 L142.9,298.78 L144.4,299.65 L145.9,300.49 L147.4,301.30 L148.9,302.07 L150.4,302.80 L151.9,303.51 L153.4,304.17 L154.9,304.80 L156.4,305.38 L157.9,305.93 L159.4,306.44 L160.9,306.90 L162.4,307.32 L163.9,307.69 L165.4,308.02 L166.9,308.31 L168.4,308.54 L169.9,308.72 L171.4,308.86 L172.9,308.94 L174.4,308.97 L175.9,308.95 L177.4,308.88 L178.9,308.75 L180.4,308.57 L181.9,308.35 L183.4,308.06 L184.9,307.73 L186.4,307.35 L187.9,306.91 L189.4,306.42 L190.9,305.88 L192.4,305.29 L193.9,304.65 L195.4,303.96 L196.9,303.22 L198.4,302.42 L199.9,301.58 L201.4,300.70 L202.9,299.79 L204.4,298.87 L205.9,297.92 L207.4,296.98 L208.9,296.03 L210.4,295.10 L211.9,294.18 L213.4,293.29 L214.9,292.44 L216.4,291.62 L217.9,290.84 L219.4,290.09 L220.9,289.38 L222.4,288.70 L223.9,288.06 L225.4,287.44 L226.9,286.86 L228.4,286.30 L229.9,285.77 L231.4,285.27 L232.9,284.80 L234.4,284.34 L235.9,283.92 L237.4,283.51 L238.9,283.12 L240.4,282.76 L241.9,282.41 L243.4,282.08 L244.9,281.77 L246.4,281.47 L247.9,281.19 L249.4,280.92 L250.9,280.67 L252.4,280.42 L253.9,280.19 L255.4,279.96 L256.9,279.74 L258.4,279.53 L259.9,279.32 L261.4,279.12 L262.9,278.92 L264.4,278.73 L265.9,278.53 L267.4,278.34 L268.9,278.14 L270.4,277.95 L271.9,277.74 L273.4,277.54 L274.9,277.33 L276.4,277.11 L277.9,276.89 L279.4,276.65 L280.9,276.41 L282.4,276.16 L283.9,275.89 L285.4,275.61 L286.9,275.32 L288.4,275.01 L289.9,274.68 L291.4,274.34 L292.9,273.98 L294.4,273.60 L295.9,273.21 L297.4,272.81 L298.9,272.40 L300.4,271.99 L301.9,271.58 L303.4,271.17 L304.9,270.77 L306.4,270.38 L307.9,270.01 L309.4,269.65 L310.9,269.32 L312.4,269.01 L313.9,268.72 L315.4,268.47 L316.9,268.26 L318.4,268.08 L319.9,267.95 L321.4,267.86 L322.9,267.82 L324.4,267.84 L325.9,267.91 L327.4,268.04 L328.9,268.23 L330.4,268.49 L331.9,268.82 L333.4,269.22 L334.9,269.70 L336.4,270.26 L337.9,270.88 L339.4,271.58 L340.9,272.35 L342.4,273.18 L343.9,274.07 L345.4,275.03 L346.9,276.05 L348.4,277.12 L349.9,278.25 L351.4,279.43 L352.9,280.67 L354.4,281.96 L355.9,283.29 L357.4,284.67 L358.9,286.09 L360.4,287.55 L361.9,289.05 L363.4,290.59 L364.9,292.16 L366.4,293.76 L367.9,295.40 L369.4,297.06 L370.1,297.85 L370.1,331.70 L67.9,331.70 Z" fill="#C3242C" fill-opacity="0.45" stroke="none"/>
<path d="M67.9,292.42 L69.4,290.32 L70.9,288.37 L72.4,286.57 L73.9,284.91 L75.4,283.38 L76.9,282.00 L78.4,280.74 L79.9,279.62 L81.4,278.62 L82.9,277.73 L84.4,276.97 L85.9,276.32 L87.4,275.78 L88.9,275.34 L90.4,275.01 L91.9,274.77 L93.4,274.63 L94.9,274.58 L96.4,274.62 L97.9,274.74 L99.4,274.94 L100.9,275.22 L102.4,275.57 L103.9,275.99 L105.4,276.47 L106.9,277.02 L108.4,277.62 L109.9,278.27 L111.4,278.98 L112.9,279.73 L114.4,280.53 L115.9,281.36 L117.4,282.23 L118.9,283.13 L120.4,284.06 L121.9,285.01 L123.4,285.98 L124.9,286.97 L126.4,287.97 L127.9,288.98 L129.4,290.00 L130.9,291.02 L132.4,292.04 L133.9,293.05 L135.4,294.05 L136.9,295.04 L138.4,296.01 L139.9,296.96 L141.4,297.89 L142.9,298.78 L144.4,299.65 L145.9,300.49 L147.4,301.30 L148.9,302.07 L150.4,302.80 L151.9,303.51 L153.4,304.17 L154.9,304.80 L156.4,305.38 L157.9,305.93 L159.4,306.44 L160.9,306.90 L162.4,307.32 L163.9,307.69 L165.4,308.02 L166.9,308.31 L168.4,308.54 L169.9,308.72 L171.4,308.86 L172.9,308.94 L174.4,308.97 L175.9,308.95 L177.4,308.88 L178.9,308.75 L180.4,308.57 L181.9,308.35 L183.4,308.06 L184.9,307.73 L186.4,307.35 L187.9,306.91 L189.4,306.42 L190.9,305.88 L192.4,305.29 L193.9,304.65 L195.4,303.96 L196.9,303.22 L198.4,302.42 L199.9,301.58 L201.4,300.70 L202.9,299.79 L204.4,298.87 L205.9,297.92 L207.4,296.98 L208.9,296.03 L210.4,295.10 L211.9,294.18 L213.4,293.29 L214.9,292.44 L216.4,291.62 L217.9,290.84 L219.4,290.09 L220.9,289.38 L222.4,288.70 L223.9,288.06 L225.4,287.44 L226.9,286.86 L228.4,286.30 L229.9,285.77 L231.4,285.27 L232.9,284.80 L234.4,284.34 L235.9,283.92 L237.4,283.51 L238.9,283.12 L240.4,282.76 L241.9,282.41 L243.4,282.08 L244.9,281.77 L246.4,281.47 L247.9,281.19 L249.4,280.92 L250.9,280.67 L252.4,280.42 L253.9,280.19 L255.4,279.96 L256.9,279.74 L258.4,279.53 L259.9,279.32 L261.4,279.12 L262.9,278.92 L264.4,278.73 L265.9,278.53 L267.4,278.34 L268.9,278.14 L270.4,277.95 L271.9,277.74 L273.4,277.54 L274.9,277.33 L276.4,277.11 L277.9,276.89 L279.4,276.65 L280.9,276.41 L282.4,276.16 L283.9,275.89 L285.4,275.61 L286.9,275.32 L288.4,275.01 L289.9,274.68 L291.4,274.34 L292.9,273.98 L294.4,273.60 L295.9,273.21 L297.4,272.81 L298.9,272.40 L300.4,271.99 L301.9,271.58 L303.4,271.17 L304.9,270.77 L306.4,270.38 L307.9,270.01 L309.4,269.65 L310.9,269.32 L312.4,269.01 L313.9,268.72 L315.4,268.47 L316.9,268.26 L318.4,268.08 L319.9,267.95 L321.4,267.86 L322.9,267.82 L324.4,267.84 L325.9,267.91 L327.4,268.04 L328.9,268.23 L330.4,268.49 L331.9,268.82 L333.4,269.22 L334.9,269.70 L336.4,270.26 L337.9,270.88 L339.4,271.58 L340.9,272.35 L342.4,273.18 L343.9,274.07 L345.4,275.03 L346.9,276.05 L348.4,277.12 L349.9,278.25 L351.4,279.43 L352.9,280.67 L354.4,281.96 L355.9,283.29 L357.4,284.67 L358.9,286.09 L360.4,287.55 L361.9,289.05 L363.4,290.59 L364.9,292.16 L366.4,293.76 L367.9,295.40 L369.4,297.06 L370.1,297.85" fill="none" stroke="#C3242C" stroke-width="1.5" stroke-linejoin="round"/>
<line x1="67.9" y1="332.25" x2="370.1" y2="332.25" stroke="#5b3035" stroke-opacity="0.7" stroke-width="0.7" stroke-dasharray="1.5 4.75" stroke-dashoffset="0.75"/>
<line x1="67.0" y1="334.4" x2="370.1" y2="334.4" stroke="#444" stroke-width="1.05"/>
<line x1="67.0" y1="0.0" x2="67.0" y2="334.9" stroke="#222222" stroke-width="1.7"/>
<line x1="80.8" y1="334.4" x2="80.8" y2="338.1" stroke="#333333" stroke-width="1.1"/>
<text transform="translate(80.75,350.65) rotate(0.03)" font-size="11.73" text-anchor="middle">0</text>
<line x1="148.9" y1="334.4" x2="148.9" y2="338.1" stroke="#333333" stroke-width="1.1"/>
<text transform="translate(148.89,350.65) rotate(0.03)" font-size="11.73" text-anchor="middle">25</text>
<line x1="217.0" y1="334.4" x2="217.0" y2="338.1" stroke="#333333" stroke-width="1.1"/>
<text transform="translate(217.02,350.65) rotate(0.03)" font-size="11.73" text-anchor="middle">50</text>
<line x1="285.2" y1="334.4" x2="285.2" y2="338.1" stroke="#333333" stroke-width="1.1"/>
<text transform="translate(285.16,350.65) rotate(0.03)" font-size="11.73" text-anchor="middle">75</text>
<line x1="353.3" y1="334.4" x2="353.3" y2="338.1" stroke="#333333" stroke-width="1.1"/>
<text transform="translate(353.30,350.65) rotate(0.03)" font-size="11.73" text-anchor="middle">100</text>
<line x1="62.8" y1="95.1" x2="67.0" y2="95.1" stroke="#333333" stroke-width="1.1"/>
<line x1="62.8" y1="213.6" x2="67.0" y2="213.6" stroke="#333333" stroke-width="1.1"/>
<line x1="62.8" y1="332.4" x2="67.0" y2="332.4" stroke="#333333" stroke-width="1.1"/>
</g>
<!-- Panel B -->
<g>
<path d="M481.9,34.94 L483.4,33.02 L484.9,31.29 L486.4,29.74 L487.9,28.36 L489.4,27.15 L490.9,26.11 L492.4,25.23 L493.9,24.51 L495.4,23.94 L496.9,23.51 L498.4,23.24 L499.9,23.10 L501.4,23.10 L502.9,23.22 L504.4,23.48 L505.9,23.85 L507.4,24.35 L508.9,24.95 L510.4,25.67 L511.9,26.48 L513.4,27.40 L514.9,28.41 L516.4,29.52 L517.9,30.70 L519.4,31.96 L520.9,33.29 L522.4,34.68 L523.9,36.12 L525.4,37.60 L526.9,39.12 L528.4,40.68 L529.9,42.25 L531.4,43.83 L532.9,45.43 L534.4,47.02 L535.9,48.60 L537.4,50.17 L538.9,51.71 L540.4,53.23 L541.9,54.72 L543.4,56.17 L544.9,57.60 L546.4,58.98 L547.9,60.32 L549.4,61.62 L550.9,62.87 L552.4,64.07 L553.9,65.22 L555.4,66.31 L556.9,67.34 L558.4,68.31 L559.9,69.22 L561.4,70.06 L562.9,70.82 L564.4,71.51 L565.9,72.13 L567.4,72.66 L568.9,73.11 L570.4,73.47 L571.9,73.75 L573.4,73.94 L574.9,74.05 L576.4,74.08 L577.9,74.04 L579.4,73.93 L580.9,73.75 L582.4,73.51 L583.9,73.21 L585.4,72.85 L586.9,72.44 L588.4,71.98 L589.9,71.47 L591.4,70.93 L592.9,70.34 L594.4,69.72 L595.9,69.06 L597.4,68.38 L598.9,67.67 L600.4,66.94 L601.9,66.19 L603.4,65.43 L604.9,64.66 L606.4,63.88 L607.9,63.09 L609.4,62.30 L610.9,61.51 L612.4,60.72 L613.9,59.92 L615.4,59.13 L616.9,58.35 L618.4,57.57 L619.9,56.80 L621.4,56.04 L622.9,55.30 L624.4,54.56 L625.9,53.84 L627.4,53.14 L628.9,52.46 L630.4,51.80 L631.9,51.15 L633.4,50.53 L634.9,49.93 L636.4,49.36 L637.9,48.81 L639.4,48.28 L640.9,47.77 L642.4,47.30 L643.9,46.84 L645.4,46.42 L646.9,46.02 L648.4,45.66 L649.9,45.32 L651.4,45.01 L652.9,44.72 L654.4,44.47 L655.9,44.24 L657.4,44.03 L658.9,43.85 L660.4,43.70 L661.9,43.57 L663.4,43.46 L664.9,43.38 L666.4,43.31 L667.9,43.27 L669.4,43.25 L670.9,43.24 L672.4,43.26 L673.9,43.30 L675.4,43.35 L676.9,43.42 L678.4,43.51 L679.9,43.61 L681.4,43.73 L682.9,43.86 L684.4,44.01 L685.9,44.17 L687.4,44.35 L688.9,44.53 L690.4,44.73 L691.9,44.94 L693.4,45.15 L694.9,45.38 L696.4,45.62 L697.9,45.87 L699.4,46.12 L700.9,46.39 L702.4,46.66 L703.9,46.95 L705.4,47.24 L706.9,47.54 L708.4,47.85 L709.9,48.18 L711.4,48.51 L712.9,48.85 L714.4,49.20 L715.9,49.56 L717.4,49.93 L718.9,50.31 L720.4,50.70 L721.9,51.10 L723.4,51.50 L724.9,51.92 L726.4,52.35 L727.9,52.78 L729.4,53.23 L730.9,53.69 L732.4,54.15 L733.9,54.63 L735.4,55.11 L736.9,55.61 L738.4,56.11 L739.9,56.62 L741.4,57.15 L742.9,57.68 L744.4,58.22 L745.9,58.78 L747.4,59.34 L748.9,59.91 L750.4,60.49 L751.9,61.08 L753.4,61.68 L754.9,62.30 L756.4,62.92 L757.9,63.55 L759.4,64.19 L760.9,64.84 L762.4,65.50 L763.9,66.17 L765.4,66.85 L766.9,67.54 L768.4,68.23 L769.9,68.94 L771.4,69.66 L772.9,70.39 L774.4,71.13 L775.9,71.88 L777.4,72.64 L778.9,73.41 L780.4,74.18 L781.9,74.97 L783.4,75.77 L784.0,76.09 L784.0,94.45 L481.9,94.45 Z" fill="#000000" fill-opacity="0.42" stroke="none"/>
<path d="M481.9,34.94 L483.4,33.02 L484.9,31.29 L486.4,29.74 L487.9,28.36 L489.4,27.15 L490.9,26.11 L492.4,25.23 L493.9,24.51 L495.4,23.94 L496.9,23.51 L498.4,23.24 L499.9,23.10 L501.4,23.10 L502.9,23.22 L504.4,23.48 L505.9,23.85 L507.4,24.35 L508.9,24.95 L510.4,25.67 L511.9,26.48 L513.4,27.40 L514.9,28.41 L516.4,29.52 L517.9,30.70 L519.4,31.96 L520.9,33.29 L522.4,34.68 L523.9,36.12 L525.4,37.60 L526.9,39.12 L528.4,40.68 L529.9,42.25 L531.4,43.83 L532.9,45.43 L534.4,47.02 L535.9,48.60 L537.4,50.17 L538.9,51.71 L540.4,53.23 L541.9,54.72 L543.4,56.17 L544.9,57.60 L546.4,58.98 L547.9,60.32 L549.4,61.62 L550.9,62.87 L552.4,64.07 L553.9,65.22 L555.4,66.31 L556.9,67.34 L558.4,68.31 L559.9,69.22 L561.4,70.06 L562.9,70.82 L564.4,71.51 L565.9,72.13 L567.4,72.66 L568.9,73.11 L570.4,73.47 L571.9,73.75 L573.4,73.94 L574.9,74.05 L576.4,74.08 L577.9,74.04 L579.4,73.93 L580.9,73.75 L582.4,73.51 L583.9,73.21 L585.4,72.85 L586.9,72.44 L588.4,71.98 L589.9,71.47 L591.4,70.93 L592.9,70.34 L594.4,69.72 L595.9,69.06 L597.4,68.38 L598.9,67.67 L600.4,66.94 L601.9,66.19 L603.4,65.43 L604.9,64.66 L606.4,63.88 L607.9,63.09 L609.4,62.30 L610.9,61.51 L612.4,60.72 L613.9,59.92 L615.4,59.13 L616.9,58.35 L618.4,57.57 L619.9,56.80 L621.4,56.04 L622.9,55.30 L624.4,54.56 L625.9,53.84 L627.4,53.14 L628.9,52.46 L630.4,51.80 L631.9,51.15 L633.4,50.53 L634.9,49.93 L636.4,49.36 L637.9,48.81 L639.4,48.28 L640.9,47.77 L642.4,47.30 L643.9,46.84 L645.4,46.42 L646.9,46.02 L648.4,45.66 L649.9,45.32 L651.4,45.01 L652.9,44.72 L654.4,44.47 L655.9,44.24 L657.4,44.03 L658.9,43.85 L660.4,43.70 L661.9,43.57 L663.4,43.46 L664.9,43.38 L666.4,43.31 L667.9,43.27 L669.4,43.25 L670.9,43.24 L672.4,43.26 L673.9,43.30 L675.4,43.35 L676.9,43.42 L678.4,43.51 L679.9,43.61 L681.4,43.73 L682.9,43.86 L684.4,44.01 L685.9,44.17 L687.4,44.35 L688.9,44.53 L690.4,44.73 L691.9,44.94 L693.4,45.15 L694.9,45.38 L696.4,45.62 L697.9,45.87 L699.4,46.12 L700.9,46.39 L702.4,46.66 L703.9,46.95 L705.4,47.24 L706.9,47.54 L708.4,47.85 L709.9,48.18 L711.4,48.51 L712.9,48.85 L714.4,49.20 L715.9,49.56 L717.4,49.93 L718.9,50.31 L720.4,50.70 L721.9,51.10 L723.4,51.50 L724.9,51.92 L726.4,52.35 L727.9,52.78 L729.4,53.23 L730.9,53.69 L732.4,54.15 L733.9,54.63 L735.4,55.11 L736.9,55.61 L738.4,56.11 L739.9,56.62 L741.4,57.15 L742.9,57.68 L744.4,58.22 L745.9,58.78 L747.4,59.34 L748.9,59.91 L750.4,60.49 L751.9,61.08 L753.4,61.68 L754.9,62.30 L756.4,62.92 L757.9,63.55 L759.4,64.19 L760.9,64.84 L762.4,65.50 L763.9,66.17 L765.4,66.85 L766.9,67.54 L768.4,68.23 L769.9,68.94 L771.4,69.66 L772.9,70.39 L774.4,71.13 L775.9,71.88 L777.4,72.64 L778.9,73.41 L780.4,74.18 L781.9,74.97 L783.4,75.77 L784.0,76.09" fill="none" stroke="#000000" stroke-width="1.7" stroke-linejoin="round"/>
<path d="M481.9,27.37 L483.4,24.65 L484.9,22.21 L486.4,20.04 L487.9,18.12 L489.4,16.44 L490.9,14.98 L492.4,13.72 L493.9,12.65 L495.4,11.75 L496.9,11.00 L498.4,10.40 L499.9,9.91 L501.4,9.54 L502.9,9.27 L504.4,9.12 L505.9,9.07 L507.4,9.14 L508.9,9.33 L510.4,9.64 L511.9,10.06 L513.4,10.60 L514.9,11.27 L516.4,12.05 L517.9,12.94 L519.4,13.93 L520.9,15.01 L522.4,16.18 L523.9,17.44 L525.4,18.77 L526.9,20.16 L528.4,21.62 L529.9,23.12 L531.4,24.68 L532.9,26.27 L534.4,27.89 L535.9,29.54 L537.4,31.21 L538.9,32.89 L540.4,34.58 L541.9,36.27 L543.4,37.96 L544.9,39.65 L546.4,41.34 L547.9,43.02 L549.4,44.69 L550.9,46.34 L552.4,47.98 L553.9,49.59 L555.4,51.18 L556.9,52.74 L558.4,54.26 L559.9,55.74 L561.4,57.16 L562.9,58.53 L564.4,59.83 L565.9,61.05 L567.4,62.20 L568.9,63.28 L570.4,64.29 L571.9,65.24 L573.4,66.12 L574.9,66.95 L576.4,67.72 L577.9,68.45 L579.4,69.13 L580.9,69.77 L582.4,70.37 L583.9,70.93 L585.4,71.46 L586.9,71.97 L588.4,72.44 L589.9,72.89 L591.4,73.30 L592.9,73.68 L594.4,74.03 L595.9,74.35 L597.4,74.63 L598.9,74.87 L600.4,75.08 L601.9,75.25 L603.4,75.38 L604.9,75.47 L606.4,75.53 L607.9,75.54 L609.4,75.52 L610.9,75.46 L612.4,75.36 L613.9,75.23 L615.4,75.06 L616.9,74.87 L618.4,74.64 L619.9,74.39 L621.4,74.10 L622.9,73.79 L624.4,73.45 L625.9,73.09 L627.4,72.70 L628.9,72.29 L630.4,71.85 L631.9,71.40 L633.4,70.93 L634.9,70.44 L636.4,69.93 L637.9,69.41 L639.4,68.87 L640.9,68.32 L642.4,67.76 L643.9,67.18 L645.4,66.60 L646.9,66.00 L648.4,65.40 L649.9,64.79 L651.4,64.18 L652.9,63.56 L654.4,62.94 L655.9,62.32 L657.4,61.70 L658.9,61.07 L660.4,60.45 L661.9,59.83 L663.4,59.22 L664.9,58.61 L666.4,58.00 L667.9,57.41 L669.4,56.82 L670.9,56.24 L672.4,55.68 L673.9,55.12 L675.4,54.58 L676.9,54.05 L678.4,53.54 L679.9,53.04 L681.4,52.56 L682.9,52.11 L684.4,51.67 L685.9,51.25 L687.4,50.85 L688.9,50.48 L690.4,50.14 L691.9,49.82 L693.4,49.52 L694.9,49.26 L696.4,49.02 L697.9,48.81 L699.4,48.63 L700.9,48.48 L702.4,48.35 L703.9,48.26 L705.4,48.19 L706.9,48.16 L708.4,48.15 L709.9,48.17 L711.4,48.22 L712.9,48.30 L714.4,48.40 L715.9,48.54 L717.4,48.70 L718.9,48.90 L720.4,49.12 L721.9,49.37 L723.4,49.65 L724.9,49.96 L726.4,50.30 L727.9,50.66 L729.4,51.06 L730.9,51.49 L732.4,51.94 L733.9,52.43 L735.4,52.94 L736.9,53.48 L738.4,54.05 L739.9,54.65 L741.4,55.27 L742.9,55.92 L744.4,56.59 L745.9,57.28 L747.4,57.99 L748.9,58.72 L750.4,59.47 L751.9,60.24 L753.4,61.02 L754.9,61.81 L756.4,62.62 L757.9,63.44 L759.4,64.27 L760.9,65.11 L762.4,65.95 L763.9,66.81 L765.4,67.66 L766.9,68.52 L768.4,69.39 L769.9,70.25 L771.4,71.12 L772.9,71.98 L774.4,72.84 L775.9,73.70 L777.4,74.55 L778.9,75.40 L780.4,76.24 L781.9,77.07 L783.4,77.89 L784.0,78.21 L784.0,94.45 L481.9,94.45 Z" fill="#C3242C" fill-opacity="0.45" stroke="none"/>
<path d="M481.9,27.37 L483.4,24.65 L484.9,22.21 L486.4,20.04 L487.9,18.12 L489.4,16.44 L490.9,14.98 L492.4,13.72 L493.9,12.65 L495.4,11.75 L496.9,11.00 L498.4,10.40 L499.9,9.91 L501.4,9.54 L502.9,9.27 L504.4,9.12 L505.9,9.07 L507.4,9.14 L508.9,9.33 L510.4,9.64 L511.9,10.06 L513.4,10.60 L514.9,11.27 L516.4,12.05 L517.9,12.94 L519.4,13.93 L520.9,15.01 L522.4,16.18 L523.9,17.44 L525.4,18.77 L526.9,20.16 L528.4,21.62 L529.9,23.12 L531.4,24.68 L532.9,26.27 L534.4,27.89 L535.9,29.54 L537.4,31.21 L538.9,32.89 L540.4,34.58 L541.9,36.27 L543.4,37.96 L544.9,39.65 L546.4,41.34 L547.9,43.02 L549.4,44.69 L550.9,46.34 L552.4,47.98 L553.9,49.59 L555.4,51.18 L556.9,52.74 L558.4,54.26 L559.9,55.74 L561.4,57.16 L562.9,58.53 L564.4,59.83 L565.9,61.05 L567.4,62.20 L568.9,63.28 L570.4,64.29 L571.9,65.24 L573.4,66.12 L574.9,66.95 L576.4,67.72 L577.9,68.45 L579.4,69.13 L580.9,69.77 L582.4,70.37 L583.9,70.93 L585.4,71.46 L586.9,71.97 L588.4,72.44 L589.9,72.89 L591.4,73.30 L592.9,73.68 L594.4,74.03 L595.9,74.35 L597.4,74.63 L598.9,74.87 L600.4,75.08 L601.9,75.25 L603.4,75.38 L604.9,75.47 L606.4,75.53 L607.9,75.54 L609.4,75.52 L610.9,75.46 L612.4,75.36 L613.9,75.23 L615.4,75.06 L616.9,74.87 L618.4,74.64 L619.9,74.39 L621.4,74.10 L622.9,73.79 L624.4,73.45 L625.9,73.09 L627.4,72.70 L628.9,72.29 L630.4,71.85 L631.9,71.40 L633.4,70.93 L634.9,70.44 L636.4,69.93 L637.9,69.41 L639.4,68.87 L640.9,68.32 L642.4,67.76 L643.9,67.18 L645.4,66.60 L646.9,66.00 L648.4,65.40 L649.9,64.79 L651.4,64.18 L652.9,63.56 L654.4,62.94 L655.9,62.32 L657.4,61.70 L658.9,61.07 L660.4,60.45 L661.9,59.83 L663.4,59.22 L664.9,58.61 L666.4,58.00 L667.9,57.41 L669.4,56.82 L670.9,56.24 L672.4,55.68 L673.9,55.12 L675.4,54.58 L676.9,54.05 L678.4,53.54 L679.9,53.04 L681.4,52.56 L682.9,52.11 L684.4,51.67 L685.9,51.25 L687.4,50.85 L688.9,50.48 L690.4,50.14 L691.9,49.82 L693.4,49.52 L694.9,49.26 L696.4,49.02 L697.9,48.81 L699.4,48.63 L700.9,48.48 L702.4,48.35 L703.9,48.26 L705.4,48.19 L706.9,48.16 L708.4,48.15 L709.9,48.17 L711.4,48.22 L712.9,48.30 L714.4,48.40 L715.9,48.54 L717.4,48.70 L718.9,48.90 L720.4,49.12 L721.9,49.37 L723.4,49.65 L724.9,49.96 L726.4,50.30 L727.9,50.66 L729.4,51.06 L730.9,51.49 L732.4,51.94 L733.9,52.43 L735.4,52.94 L736.9,53.48 L738.4,54.05 L739.9,54.65 L741.4,55.27 L742.9,55.92 L744.4,56.59 L745.9,57.28 L747.4,57.99 L748.9,58.72 L750.4,59.47 L751.9,60.24 L753.4,61.02 L754.9,61.81 L756.4,62.62 L757.9,63.44 L759.4,64.27 L760.9,65.11 L762.4,65.95 L763.9,66.81 L765.4,67.66 L766.9,68.52 L768.4,69.39 L769.9,70.25 L771.4,71.12 L772.9,71.98 L774.4,72.84 L775.9,73.70 L777.4,74.55 L778.9,75.40 L780.4,76.24 L781.9,77.07 L783.4,77.89 L784.0,78.21" fill="none" stroke="#C3242C" stroke-width="1.5" stroke-linejoin="round"/>
<line x1="481.9" y1="95.00" x2="784.0" y2="95.00" stroke="#5b3035" stroke-opacity="0.7" stroke-width="0.7" stroke-dasharray="1.5 4.75" stroke-dashoffset="0.75"/>
<path d="M481.9,162.24 L483.4,160.48 L484.9,158.91 L486.4,157.51 L487.9,156.29 L489.4,155.23 L490.9,154.33 L492.4,153.59 L493.9,152.99 L495.4,152.54 L496.9,152.22 L498.4,152.03 L499.9,151.96 L501.4,152.01 L502.9,152.18 L504.4,152.45 L505.9,152.82 L507.4,153.28 L508.9,153.83 L510.4,154.46 L511.9,155.17 L513.4,155.95 L514.9,156.79 L516.4,157.70 L517.9,158.65 L519.4,159.66 L520.9,160.70 L522.4,161.79 L523.9,162.90 L525.4,164.04 L526.9,165.20 L528.4,166.37 L529.9,167.55 L531.4,168.74 L532.9,169.92 L534.4,171.09 L535.9,172.24 L537.4,173.38 L538.9,174.50 L540.4,175.60 L541.9,176.67 L543.4,177.72 L544.9,178.74 L546.4,179.73 L547.9,180.69 L549.4,181.61 L550.9,182.50 L552.4,183.35 L553.9,184.17 L555.4,184.94 L556.9,185.67 L558.4,186.35 L559.9,186.99 L561.4,187.57 L562.9,188.11 L564.4,188.60 L565.9,189.03 L567.4,189.40 L568.9,189.72 L570.4,190.00 L571.9,190.22 L573.4,190.40 L574.9,190.53 L576.4,190.62 L577.9,190.66 L579.4,190.67 L580.9,190.64 L582.4,190.57 L583.9,190.46 L585.4,190.33 L586.9,190.16 L588.4,189.97 L589.9,189.75 L591.4,189.50 L592.9,189.23 L594.4,188.94 L595.9,188.62 L597.4,188.29 L598.9,187.95 L600.4,187.59 L601.9,187.21 L603.4,186.81 L604.9,186.41 L606.4,185.99 L607.9,185.55 L609.4,185.10 L610.9,184.64 L612.4,184.16 L613.9,183.67 L615.4,183.18 L616.9,182.66 L618.4,182.14 L619.9,181.61 L621.4,181.06 L622.9,180.51 L624.4,179.94 L625.9,179.37 L627.4,178.78 L628.9,178.19 L630.4,177.59 L631.9,176.98 L633.4,176.37 L634.9,175.74 L636.4,175.11 L637.9,174.48 L639.4,173.83 L640.9,173.18 L642.4,172.53 L643.9,171.87 L645.4,171.20 L646.9,170.54 L648.4,169.87 L649.9,169.20 L651.4,168.52 L652.9,167.85 L654.4,167.19 L655.9,166.52 L657.4,165.86 L658.9,165.20 L660.4,164.55 L661.9,163.91 L663.4,163.28 L664.9,162.66 L666.4,162.04 L667.9,161.44 L669.4,160.86 L670.9,160.28 L672.4,159.72 L673.9,159.18 L675.4,158.66 L676.9,158.15 L678.4,157.66 L679.9,157.20 L681.4,156.75 L682.9,156.33 L684.4,155.93 L685.9,155.56 L687.4,155.21 L688.9,154.89 L690.4,154.60 L691.9,154.34 L693.4,154.11 L694.9,153.91 L696.4,153.74 L697.9,153.60 L699.4,153.50 L700.9,153.43 L702.4,153.39 L703.9,153.38 L705.4,153.40 L706.9,153.45 L708.4,153.54 L709.9,153.65 L711.4,153.80 L712.9,153.98 L714.4,154.19 L715.9,154.43 L717.4,154.70 L718.9,155.00 L720.4,155.33 L721.9,155.69 L723.4,156.08 L724.9,156.50 L726.4,156.95 L727.9,157.43 L729.4,157.94 L730.9,158.48 L732.4,159.04 L733.9,159.64 L735.4,160.27 L736.9,160.92 L738.4,161.61 L739.9,162.32 L741.4,163.07 L742.9,163.84 L744.4,164.64 L745.9,165.46 L747.4,166.31 L748.9,167.19 L750.4,168.09 L751.9,169.01 L753.4,169.95 L754.9,170.91 L756.4,171.88 L757.9,172.87 L759.4,173.88 L760.9,174.89 L762.4,175.92 L763.9,176.96 L765.4,178.01 L766.9,179.06 L768.4,180.12 L769.9,181.18 L771.4,182.25 L772.9,183.32 L774.4,184.38 L775.9,185.45 L777.4,186.51 L778.9,187.57 L780.4,188.62 L781.9,189.66 L783.4,190.70 L784.0,191.11 L784.0,212.95 L481.9,212.95 Z" fill="#000000" fill-opacity="0.42" stroke="none"/>
<path d="M481.9,162.24 L483.4,160.48 L484.9,158.91 L486.4,157.51 L487.9,156.29 L489.4,155.23 L490.9,154.33 L492.4,153.59 L493.9,152.99 L495.4,152.54 L496.9,152.22 L498.4,152.03 L499.9,151.96 L501.4,152.01 L502.9,152.18 L504.4,152.45 L505.9,152.82 L507.4,153.28 L508.9,153.83 L510.4,154.46 L511.9,155.17 L513.4,155.95 L514.9,156.79 L516.4,157.70 L517.9,158.65 L519.4,159.66 L520.9,160.70 L522.4,161.79 L523.9,162.90 L525.4,164.04 L526.9,165.20 L528.4,166.37 L529.9,167.55 L531.4,168.74 L532.9,169.92 L534.4,171.09 L535.9,172.24 L537.4,173.38 L538.9,174.50 L540.4,175.60 L541.9,176.67 L543.4,177.72 L544.9,178.74 L546.4,179.73 L547.9,180.69 L549.4,181.61 L550.9,182.50 L552.4,183.35 L553.9,184.17 L555.4,184.94 L556.9,185.67 L558.4,186.35 L559.9,186.99 L561.4,187.57 L562.9,188.11 L564.4,188.60 L565.9,189.03 L567.4,189.40 L568.9,189.72 L570.4,190.00 L571.9,190.22 L573.4,190.40 L574.9,190.53 L576.4,190.62 L577.9,190.66 L579.4,190.67 L580.9,190.64 L582.4,190.57 L583.9,190.46 L585.4,190.33 L586.9,190.16 L588.4,189.97 L589.9,189.75 L591.4,189.50 L592.9,189.23 L594.4,188.94 L595.9,188.62 L597.4,188.29 L598.9,187.95 L600.4,187.59 L601.9,187.21 L603.4,186.81 L604.9,186.41 L606.4,185.99 L607.9,185.55 L609.4,185.10 L610.9,184.64 L612.4,184.16 L613.9,183.67 L615.4,183.18 L616.9,182.66 L618.4,182.14 L619.9,181.61 L621.4,181.06 L622.9,180.51 L624.4,179.94 L625.9,179.37 L627.4,178.78 L628.9,178.19 L630.4,177.59 L631.9,176.98 L633.4,176.37 L634.9,175.74 L636.4,175.11 L637.9,174.48 L639.4,173.83 L640.9,173.18 L642.4,172.53 L643.9,171.87 L645.4,171.20 L646.9,170.54 L648.4,169.87 L649.9,169.20 L651.4,168.52 L652.9,167.85 L654.4,167.19 L655.9,166.52 L657.4,165.86 L658.9,165.20 L660.4,164.55 L661.9,163.91 L663.4,163.28 L664.9,162.66 L666.4,162.04 L667.9,161.44 L669.4,160.86 L670.9,160.28 L672.4,159.72 L673.9,159.18 L675.4,158.66 L676.9,158.15 L678.4,157.66 L679.9,157.20 L681.4,156.75 L682.9,156.33 L684.4,155.93 L685.9,155.56 L687.4,155.21 L688.9,154.89 L690.4,154.60 L691.9,154.34 L693.4,154.11 L694.9,153.91 L696.4,153.74 L697.9,153.60 L699.4,153.50 L700.9,153.43 L702.4,153.39 L703.9,153.38 L705.4,153.40 L706.9,153.45 L708.4,153.54 L709.9,153.65 L711.4,153.80 L712.9,153.98 L714.4,154.19 L715.9,154.43 L717.4,154.70 L718.9,155.00 L720.4,155.33 L721.9,155.69 L723.4,156.08 L724.9,156.50 L726.4,156.95 L727.9,157.43 L729.4,157.94 L730.9,158.48 L732.4,159.04 L733.9,159.64 L735.4,160.27 L736.9,160.92 L738.4,161.61 L739.9,162.32 L741.4,163.07 L742.9,163.84 L744.4,164.64 L745.9,165.46 L747.4,166.31 L748.9,167.19 L750.4,168.09 L751.9,169.01 L753.4,169.95 L754.9,170.91 L756.4,171.88 L757.9,172.87 L759.4,173.88 L760.9,174.89 L762.4,175.92 L763.9,176.96 L765.4,178.01 L766.9,179.06 L768.4,180.12 L769.9,181.18 L771.4,182.25 L772.9,183.32 L774.4,184.38 L775.9,185.45 L777.4,186.51 L778.9,187.57 L780.4,188.62 L781.9,189.66 L783.4,190.70 L784.0,191.11" fill="none" stroke="#000000" stroke-width="1.7" stroke-linejoin="round"/>
<path d="M481.9,137.50 L483.4,135.25 L484.9,133.22 L486.4,131.41 L487.9,129.82 L489.4,128.44 L490.9,127.27 L492.4,126.29 L493.9,125.52 L495.4,124.93 L496.9,124.54 L498.4,124.33 L499.9,124.30 L501.4,124.44 L502.9,124.76 L504.4,125.24 L505.9,125.88 L507.4,126.68 L508.9,127.63 L510.4,128.72 L511.9,129.95 L513.4,131.30 L514.9,132.76 L516.4,134.33 L517.9,136.00 L519.4,137.75 L520.9,139.58 L522.4,141.48 L523.9,143.43 L525.4,145.44 L526.9,147.48 L528.4,149.56 L529.9,151.65 L531.4,153.76 L532.9,155.87 L534.4,157.97 L535.9,160.06 L537.4,162.13 L538.9,164.18 L540.4,166.19 L541.9,168.16 L543.4,170.08 L544.9,171.94 L546.4,173.75 L547.9,175.48 L549.4,177.14 L550.9,178.72 L552.4,180.21 L553.9,181.60 L555.4,182.89 L556.9,184.07 L558.4,185.14 L559.9,186.12 L561.4,187.00 L562.9,187.79 L564.4,188.49 L565.9,189.10 L567.4,189.64 L568.9,190.09 L570.4,190.48 L571.9,190.79 L573.4,191.04 L574.9,191.23 L576.4,191.36 L577.9,191.44 L579.4,191.46 L580.9,191.44 L582.4,191.38 L583.9,191.28 L585.4,191.15 L586.9,190.98 L588.4,190.79 L589.9,190.57 L591.4,190.33 L592.9,190.06 L594.4,189.78 L595.9,189.47 L597.4,189.15 L598.9,188.81 L600.4,188.45 L601.9,188.07 L603.4,187.68 L604.9,187.28 L606.4,186.86 L607.9,186.44 L609.4,186.00 L610.9,185.55 L612.4,185.10 L613.9,184.64 L615.4,184.17 L616.9,183.70 L618.4,183.23 L619.9,182.75 L621.4,182.28 L622.9,181.80 L624.4,181.32 L625.9,180.85 L627.4,180.38 L628.9,179.91 L630.4,179.45 L631.9,179.00 L633.4,178.55 L634.9,178.12 L636.4,177.69 L637.9,177.26 L639.4,176.85 L640.9,176.44 L642.4,176.05 L643.9,175.66 L645.4,175.28 L646.9,174.91 L648.4,174.56 L649.9,174.21 L651.4,173.87 L652.9,173.55 L654.4,173.23 L655.9,172.93 L657.4,172.64 L658.9,172.36 L660.4,172.10 L661.9,171.84 L663.4,171.61 L664.9,171.38 L666.4,171.17 L667.9,170.97 L669.4,170.78 L670.9,170.62 L672.4,170.46 L673.9,170.32 L675.4,170.20 L676.9,170.09 L678.4,170.00 L679.9,169.92 L681.4,169.86 L682.9,169.82 L684.4,169.80 L685.9,169.79 L687.4,169.80 L688.9,169.82 L690.4,169.86 L691.9,169.92 L693.4,169.99 L694.9,170.08 L696.4,170.19 L697.9,170.31 L699.4,170.45 L700.9,170.60 L702.4,170.77 L703.9,170.95 L705.4,171.15 L706.9,171.36 L708.4,171.59 L709.9,171.84 L711.4,172.09 L712.9,172.37 L714.4,172.65 L715.9,172.96 L717.4,173.27 L718.9,173.60 L720.4,173.94 L721.9,174.30 L723.4,174.67 L724.9,175.06 L726.4,175.45 L727.9,175.87 L729.4,176.29 L730.9,176.73 L732.4,177.18 L733.9,177.64 L735.4,178.12 L736.9,178.61 L738.4,179.11 L739.9,179.62 L741.4,180.15 L742.9,180.69 L744.4,181.23 L745.9,181.80 L747.4,182.37 L748.9,182.96 L750.4,183.55 L751.9,184.16 L753.4,184.78 L754.9,185.41 L756.4,186.05 L757.9,186.70 L759.4,187.36 L760.9,188.04 L762.4,188.72 L763.9,189.42 L765.4,190.12 L766.9,190.84 L768.4,191.56 L769.9,192.30 L771.4,193.04 L772.9,193.79 L774.4,194.56 L775.9,195.33 L777.4,196.11 L778.9,196.90 L780.4,197.70 L781.9,198.51 L783.4,199.33 L784.0,199.66 L784.0,212.95 L481.9,212.95 Z" fill="#C3242C" fill-opacity="0.45" stroke="none"/>
<path d="M481.9,137.50 L483.4,135.25 L484.9,133.22 L486.4,131.41 L487.9,129.82 L489.4,128.44 L490.9,127.27 L492.4,126.29 L493.9,125.52 L495.4,124.93 L496.9,124.54 L498.4,124.33 L499.9,124.30 L501.4,124.44 L502.9,124.76 L504.4,125.24 L505.9,125.88 L507.4,126.68 L508.9,127.63 L510.4,128.72 L511.9,129.95 L513.4,131.30 L514.9,132.76 L516.4,134.33 L517.9,136.00 L519.4,137.75 L520.9,139.58 L522.4,141.48 L523.9,143.43 L525.4,145.44 L526.9,147.48 L528.4,149.56 L529.9,151.65 L531.4,153.76 L532.9,155.87 L534.4,157.97 L535.9,160.06 L537.4,162.13 L538.9,164.18 L540.4,166.19 L541.9,168.16 L543.4,170.08 L544.9,171.94 L546.4,173.75 L547.9,175.48 L549.4,177.14 L550.9,178.72 L552.4,180.21 L553.9,181.60 L555.4,182.89 L556.9,184.07 L558.4,185.14 L559.9,186.12 L561.4,187.00 L562.9,187.79 L564.4,188.49 L565.9,189.10 L567.4,189.64 L568.9,190.09 L570.4,190.48 L571.9,190.79 L573.4,191.04 L574.9,191.23 L576.4,191.36 L577.9,191.44 L579.4,191.46 L580.9,191.44 L582.4,191.38 L583.9,191.28 L585.4,191.15 L586.9,190.98 L588.4,190.79 L589.9,190.57 L591.4,190.33 L592.9,190.06 L594.4,189.78 L595.9,189.47 L597.4,189.15 L598.9,188.81 L600.4,188.45 L601.9,188.07 L603.4,187.68 L604.9,187.28 L606.4,186.86 L607.9,186.44 L609.4,186.00 L610.9,185.55 L612.4,185.10 L613.9,184.64 L615.4,184.17 L616.9,183.70 L618.4,183.23 L619.9,182.75 L621.4,182.28 L622.9,181.80 L624.4,181.32 L625.9,180.85 L627.4,180.38 L628.9,179.91 L630.4,179.45 L631.9,179.00 L633.4,178.55 L634.9,178.12 L636.4,177.69 L637.9,177.26 L639.4,176.85 L640.9,176.44 L642.4,176.05 L643.9,175.66 L645.4,175.28 L646.9,174.91 L648.4,174.56 L649.9,174.21 L651.4,173.87 L652.9,173.55 L654.4,173.23 L655.9,172.93 L657.4,172.64 L658.9,172.36 L660.4,172.10 L661.9,171.84 L663.4,171.61 L664.9,171.38 L666.4,171.17 L667.9,170.97 L669.4,170.78 L670.9,170.62 L672.4,170.46 L673.9,170.32 L675.4,170.20 L676.9,170.09 L678.4,170.00 L679.9,169.92 L681.4,169.86 L682.9,169.82 L684.4,169.80 L685.9,169.79 L687.4,169.80 L688.9,169.82 L690.4,169.86 L691.9,169.92 L693.4,169.99 L694.9,170.08 L696.4,170.19 L697.9,170.31 L699.4,170.45 L700.9,170.60 L702.4,170.77 L703.9,170.95 L705.4,171.15 L706.9,171.36 L708.4,171.59 L709.9,171.84 L711.4,172.09 L712.9,172.37 L714.4,172.65 L715.9,172.96 L717.4,173.27 L718.9,173.60 L720.4,173.94 L721.9,174.30 L723.4,174.67 L724.9,175.06 L726.4,175.45 L727.9,175.87 L729.4,176.29 L730.9,176.73 L732.4,177.18 L733.9,177.64 L735.4,178.12 L736.9,178.61 L738.4,179.11 L739.9,179.62 L741.4,180.15 L742.9,180.69 L744.4,181.23 L745.9,181.80 L747.4,182.37 L748.9,182.96 L750.4,183.55 L751.9,184.16 L753.4,184.78 L754.9,185.41 L756.4,186.05 L757.9,186.70 L759.4,187.36 L760.9,188.04 L762.4,188.72 L763.9,189.42 L765.4,190.12 L766.9,190.84 L768.4,191.56 L769.9,192.30 L771.4,193.04 L772.9,193.79 L774.4,194.56 L775.9,195.33 L777.4,196.11 L778.9,196.90 L780.4,197.70 L781.9,198.51 L783.4,199.33 L784.0,199.66" fill="none" stroke="#C3242C" stroke-width="1.5" stroke-linejoin="round"/>
<line x1="481.9" y1="213.50" x2="784.0" y2="213.50" stroke="#5b3035" stroke-opacity="0.7" stroke-width="0.7" stroke-dasharray="1.5 4.75" stroke-dashoffset="0.75"/>
<path d="M481.9,273.66 L483.4,271.85 L484.9,270.21 L486.4,268.74 L487.9,267.43 L489.4,266.29 L490.9,265.29 L492.4,264.44 L493.9,263.74 L495.4,263.18 L496.9,262.76 L498.4,262.46 L499.9,262.30 L501.4,262.25 L502.9,262.33 L504.4,262.52 L505.9,262.82 L507.4,263.23 L508.9,263.73 L510.4,264.34 L511.9,265.03 L513.4,265.82 L514.9,266.68 L516.4,267.63 L517.9,268.65 L519.4,269.74 L520.9,270.88 L522.4,272.08 L523.9,273.32 L525.4,274.60 L526.9,275.91 L528.4,277.23 L529.9,278.58 L531.4,279.92 L532.9,281.27 L534.4,282.61 L535.9,283.93 L537.4,285.23 L538.9,286.49 L540.4,287.73 L541.9,288.92 L543.4,290.08 L544.9,291.21 L546.4,292.29 L547.9,293.33 L549.4,294.32 L550.9,295.27 L552.4,296.17 L553.9,297.02 L555.4,297.83 L556.9,298.57 L558.4,299.27 L559.9,299.91 L561.4,300.49 L562.9,301.01 L564.4,301.47 L565.9,301.87 L567.4,302.20 L568.9,302.48 L570.4,302.70 L571.9,302.86 L573.4,302.98 L574.9,303.05 L576.4,303.08 L577.9,303.07 L579.4,303.02 L580.9,302.93 L582.4,302.82 L583.9,302.67 L585.4,302.50 L586.9,302.31 L588.4,302.10 L589.9,301.87 L591.4,301.64 L592.9,301.39 L594.4,301.13 L595.9,300.87 L597.4,300.61 L598.9,300.35 L600.4,300.08 L601.9,299.81 L603.4,299.54 L604.9,299.27 L606.4,299.00 L607.9,298.73 L609.4,298.45 L610.9,298.17 L612.4,297.90 L613.9,297.62 L615.4,297.34 L616.9,297.06 L618.4,296.78 L619.9,296.50 L621.4,296.22 L622.9,295.94 L624.4,295.66 L625.9,295.38 L627.4,295.10 L628.9,294.82 L630.4,294.54 L631.9,294.27 L633.4,293.99 L634.9,293.71 L636.4,293.44 L637.9,293.17 L639.4,292.89 L640.9,292.63 L642.4,292.36 L643.9,292.09 L645.4,291.83 L646.9,291.57 L648.4,291.31 L649.9,291.05 L651.4,290.80 L652.9,290.54 L654.4,290.30 L655.9,290.05 L657.4,289.81 L658.9,289.57 L660.4,289.33 L661.9,289.10 L663.4,288.87 L664.9,288.65 L666.4,288.43 L667.9,288.21 L669.4,288.00 L670.9,287.79 L672.4,287.59 L673.9,287.39 L675.4,287.19 L676.9,287.00 L678.4,286.82 L679.9,286.64 L681.4,286.47 L682.9,286.30 L684.4,286.14 L685.9,285.98 L687.4,285.84 L688.9,285.70 L690.4,285.57 L691.9,285.45 L693.4,285.35 L694.9,285.25 L696.4,285.17 L697.9,285.10 L699.4,285.05 L700.9,285.01 L702.4,284.99 L703.9,284.98 L705.4,284.99 L706.9,285.02 L708.4,285.07 L709.9,285.14 L711.4,285.24 L712.9,285.35 L714.4,285.48 L715.9,285.64 L717.4,285.83 L718.9,286.04 L720.4,286.27 L721.9,286.53 L723.4,286.82 L724.9,287.14 L726.4,287.49 L727.9,287.86 L729.4,288.27 L730.9,288.71 L732.4,289.18 L733.9,289.67 L735.4,290.19 L736.9,290.73 L738.4,291.30 L739.9,291.89 L741.4,292.49 L742.9,293.12 L744.4,293.76 L745.9,294.42 L747.4,295.10 L748.9,295.79 L750.4,296.49 L751.9,297.20 L753.4,297.92 L754.9,298.65 L756.4,299.38 L757.9,300.12 L759.4,300.86 L760.9,301.61 L762.4,302.36 L763.9,303.10 L765.4,303.85 L766.9,304.59 L768.4,305.33 L769.9,306.06 L771.4,306.78 L772.9,307.50 L774.4,308.20 L775.9,308.90 L777.4,309.58 L778.9,310.24 L780.4,310.90 L781.9,311.53 L783.4,312.15 L784.0,312.39 L784.0,331.70 L481.9,331.70 Z" fill="#000000" fill-opacity="0.42" stroke="none"/>
<path d="M481.9,273.66 L483.4,271.85 L484.9,270.21 L486.4,268.74 L487.9,267.43 L489.4,266.29 L490.9,265.29 L492.4,264.44 L493.9,263.74 L495.4,263.18 L496.9,262.76 L498.4,262.46 L499.9,262.30 L501.4,262.25 L502.9,262.33 L504.4,262.52 L505.9,262.82 L507.4,263.23 L508.9,263.73 L510.4,264.34 L511.9,265.03 L513.4,265.82 L514.9,266.68 L516.4,267.63 L517.9,268.65 L519.4,269.74 L520.9,270.88 L522.4,272.08 L523.9,273.32 L525.4,274.60 L526.9,275.91 L528.4,277.23 L529.9,278.58 L531.4,279.92 L532.9,281.27 L534.4,282.61 L535.9,283.93 L537.4,285.23 L538.9,286.49 L540.4,287.73 L541.9,288.92 L543.4,290.08 L544.9,291.21 L546.4,292.29 L547.9,293.33 L549.4,294.32 L550.9,295.27 L552.4,296.17 L553.9,297.02 L555.4,297.83 L556.9,298.57 L558.4,299.27 L559.9,299.91 L561.4,300.49 L562.9,301.01 L564.4,301.47 L565.9,301.87 L567.4,302.20 L568.9,302.48 L570.4,302.70 L571.9,302.86 L573.4,302.98 L574.9,303.05 L576.4,303.08 L577.9,303.07 L579.4,303.02 L580.9,302.93 L582.4,302.82 L583.9,302.67 L585.4,302.50 L586.9,302.31 L588.4,302.10 L589.9,301.87 L591.4,301.64 L592.9,301.39 L594.4,301.13 L595.9,300.87 L597.4,300.61 L598.9,300.35 L600.4,300.08 L601.9,299.81 L603.4,299.54 L604.9,299.27 L606.4,299.00 L607.9,298.73 L609.4,298.45 L610.9,298.17 L612.4,297.90 L613.9,297.62 L615.4,297.34 L616.9,297.06 L618.4,296.78 L619.9,296.50 L621.4,296.22 L622.9,295.94 L624.4,295.66 L625.9,295.38 L627.4,295.10 L628.9,294.82 L630.4,294.54 L631.9,294.27 L633.4,293.99 L634.9,293.71 L636.4,293.44 L637.9,293.17 L639.4,292.89 L640.9,292.63 L642.4,292.36 L643.9,292.09 L645.4,291.83 L646.9,291.57 L648.4,291.31 L649.9,291.05 L651.4,290.80 L652.9,290.54 L654.4,290.30 L655.9,290.05 L657.4,289.81 L658.9,289.57 L660.4,289.33 L661.9,289.10 L663.4,288.87 L664.9,288.65 L666.4,288.43 L667.9,288.21 L669.4,288.00 L670.9,287.79 L672.4,287.59 L673.9,287.39 L675.4,287.19 L676.9,287.00 L678.4,286.82 L679.9,286.64 L681.4,286.47 L682.9,286.30 L684.4,286.14 L685.9,285.98 L687.4,285.84 L688.9,285.70 L690.4,285.57 L691.9,285.45 L693.4,285.35 L694.9,285.25 L696.4,285.17 L697.9,285.10 L699.4,285.05 L700.9,285.01 L702.4,284.99 L703.9,284.98 L705.4,284.99 L706.9,285.02 L708.4,285.07 L709.9,285.14 L711.4,285.24 L712.9,285.35 L714.4,285.48 L715.9,285.64 L717.4,285.83 L718.9,286.04 L720.4,286.27 L721.9,286.53 L723.4,286.82 L724.9,287.14 L726.4,287.49 L727.9,287.86 L729.4,288.27 L730.9,288.71 L732.4,289.18 L733.9,289.67 L735.4,290.19 L736.9,290.73 L738.4,291.30 L739.9,291.89 L741.4,292.49 L742.9,293.12 L744.4,293.76 L745.9,294.42 L747.4,295.10 L748.9,295.79 L750.4,296.49 L751.9,297.20 L753.4,297.92 L754.9,298.65 L756.4,299.38 L757.9,300.12 L759.4,300.86 L760.9,301.61 L762.4,302.36 L763.9,303.10 L765.4,303.85 L766.9,304.59 L768.4,305.33 L769.9,306.06 L771.4,306.78 L772.9,307.50 L774.4,308.20 L775.9,308.90 L777.4,309.58 L778.9,310.24 L780.4,310.90 L781.9,311.53 L783.4,312.15 L784.0,312.39" fill="none" stroke="#000000" stroke-width="1.7" stroke-linejoin="round"/>
<path d="M481.9,260.68 L483.4,258.34 L484.9,256.23 L486.4,254.35 L487.9,252.69 L489.4,251.25 L490.9,250.02 L492.4,248.99 L493.9,248.16 L495.4,247.51 L496.9,247.06 L498.4,246.78 L499.9,246.68 L501.4,246.75 L502.9,246.97 L504.4,247.35 L505.9,247.89 L507.4,248.56 L508.9,249.37 L510.4,250.31 L511.9,251.38 L513.4,252.57 L514.9,253.87 L516.4,255.27 L517.9,256.78 L519.4,258.36 L520.9,260.03 L522.4,261.77 L523.9,263.56 L525.4,265.41 L526.9,267.29 L528.4,269.21 L529.9,271.15 L531.4,273.11 L532.9,275.07 L534.4,277.03 L535.9,278.97 L537.4,280.90 L538.9,282.78 L540.4,284.63 L541.9,286.44 L543.4,288.20 L544.9,289.92 L546.4,291.59 L547.9,293.22 L549.4,294.79 L550.9,296.31 L552.4,297.79 L553.9,299.21 L555.4,300.58 L556.9,301.89 L558.4,303.15 L559.9,304.35 L561.4,305.49 L562.9,306.57 L564.4,307.60 L565.9,308.56 L567.4,309.46 L568.9,310.29 L570.4,311.06 L571.9,311.77 L573.4,312.41 L574.9,312.98 L576.4,313.48 L577.9,313.93 L579.4,314.31 L580.9,314.63 L582.4,314.90 L583.9,315.12 L585.4,315.28 L586.9,315.39 L588.4,315.45 L589.9,315.46 L591.4,315.43 L592.9,315.35 L594.4,315.24 L595.9,315.08 L597.4,314.89 L598.9,314.67 L600.4,314.41 L601.9,314.11 L603.4,313.79 L604.9,313.44 L606.4,313.05 L607.9,312.63 L609.4,312.19 L610.9,311.71 L612.4,311.20 L613.9,310.67 L615.4,310.10 L616.9,309.50 L618.4,308.88 L619.9,308.23 L621.4,307.55 L622.9,306.85 L624.4,306.13 L625.9,305.39 L627.4,304.64 L628.9,303.87 L630.4,303.10 L631.9,302.32 L633.4,301.54 L634.9,300.77 L636.4,299.99 L637.9,299.23 L639.4,298.48 L640.9,297.74 L642.4,297.02 L643.9,296.33 L645.4,295.66 L646.9,295.01 L648.4,294.39 L649.9,293.80 L651.4,293.22 L652.9,292.68 L654.4,292.15 L655.9,291.65 L657.4,291.17 L658.9,290.71 L660.4,290.28 L661.9,289.87 L663.4,289.48 L664.9,289.11 L666.4,288.76 L667.9,288.44 L669.4,288.13 L670.9,287.85 L672.4,287.59 L673.9,287.34 L675.4,287.12 L676.9,286.92 L678.4,286.74 L679.9,286.57 L681.4,286.43 L682.9,286.31 L684.4,286.21 L685.9,286.12 L687.4,286.05 L688.9,286.01 L690.4,285.98 L691.9,285.97 L693.4,285.98 L694.9,286.00 L696.4,286.05 L697.9,286.11 L699.4,286.19 L700.9,286.28 L702.4,286.40 L703.9,286.53 L705.4,286.67 L706.9,286.84 L708.4,287.02 L709.9,287.21 L711.4,287.43 L712.9,287.65 L714.4,287.90 L715.9,288.16 L717.4,288.43 L718.9,288.72 L720.4,289.03 L721.9,289.35 L723.4,289.68 L724.9,290.03 L726.4,290.39 L727.9,290.77 L729.4,291.16 L730.9,291.57 L732.4,291.98 L733.9,292.42 L735.4,292.86 L736.9,293.32 L738.4,293.79 L739.9,294.27 L741.4,294.77 L742.9,295.28 L744.4,295.80 L745.9,296.33 L747.4,296.88 L748.9,297.43 L750.4,298.00 L751.9,298.58 L753.4,299.17 L754.9,299.77 L756.4,300.38 L757.9,301.00 L759.4,301.64 L760.9,302.28 L762.4,302.93 L763.9,303.60 L765.4,304.27 L766.9,304.95 L768.4,305.64 L769.9,306.34 L771.4,307.05 L772.9,307.77 L774.4,308.50 L775.9,309.23 L777.4,309.97 L778.9,310.73 L780.4,311.48 L781.9,312.25 L783.4,313.03 L784.0,313.34 L784.0,331.70 L481.9,331.70 Z" fill="#C3242C" fill-opacity="0.45" stroke="none"/>
<path d="M481.9,260.68 L483.4,258.34 L484.9,256.23 L486.4,254.35 L487.9,252.69 L489.4,251.25 L490.9,250.02 L492.4,248.99 L493.9,248.16 L495.4,247.51 L496.9,247.06 L498.4,246.78 L499.9,246.68 L501.4,246.75 L502.9,246.97 L504.4,247.35 L505.9,247.89 L507.4,248.56 L508.9,249.37 L510.4,250.31 L511.9,251.38 L513.4,252.57 L514.9,253.87 L516.4,255.27 L517.9,256.78 L519.4,258.36 L520.9,260.03 L522.4,261.77 L523.9,263.56 L525.4,265.41 L526.9,267.29 L528.4,269.21 L529.9,271.15 L531.4,273.11 L532.9,275.07 L534.4,277.03 L535.9,278.97 L537.4,280.90 L538.9,282.78 L540.4,284.63 L541.9,286.44 L543.4,288.20 L544.9,289.92 L546.4,291.59 L547.9,293.22 L549.4,294.79 L550.9,296.31 L552.4,297.79 L553.9,299.21 L555.4,300.58 L556.9,301.89 L558.4,303.15 L559.9,304.35 L561.4,305.49 L562.9,306.57 L564.4,307.60 L565.9,308.56 L567.4,309.46 L568.9,310.29 L570.4,311.06 L571.9,311.77 L573.4,312.41 L574.9,312.98 L576.4,313.48 L577.9,313.93 L579.4,314.31 L580.9,314.63 L582.4,314.90 L583.9,315.12 L585.4,315.28 L586.9,315.39 L588.4,315.45 L589.9,315.46 L591.4,315.43 L592.9,315.35 L594.4,315.24 L595.9,315.08 L597.4,314.89 L598.9,314.67 L600.4,314.41 L601.9,314.11 L603.4,313.79 L604.9,313.44 L606.4,313.05 L607.9,312.63 L609.4,312.19 L610.9,311.71 L612.4,311.20 L613.9,310.67 L615.4,310.10 L616.9,309.50 L618.4,308.88 L619.9,308.23 L621.4,307.55 L622.9,306.85 L624.4,306.13 L625.9,305.39 L627.4,304.64 L628.9,303.87 L630.4,303.10 L631.9,302.32 L633.4,301.54 L634.9,300.77 L636.4,299.99 L637.9,299.23 L639.4,298.48 L640.9,297.74 L642.4,297.02 L643.9,296.33 L645.4,295.66 L646.9,295.01 L648.4,294.39 L649.9,293.80 L651.4,293.22 L652.9,292.68 L654.4,292.15 L655.9,291.65 L657.4,291.17 L658.9,290.71 L660.4,290.28 L661.9,289.87 L663.4,289.48 L664.9,289.11 L666.4,288.76 L667.9,288.44 L669.4,288.13 L670.9,287.85 L672.4,287.59 L673.9,287.34 L675.4,287.12 L676.9,286.92 L678.4,286.74 L679.9,286.57 L681.4,286.43 L682.9,286.31 L684.4,286.21 L685.9,286.12 L687.4,286.05 L688.9,286.01 L690.4,285.98 L691.9,285.97 L693.4,285.98 L694.9,286.00 L696.4,286.05 L697.9,286.11 L699.4,286.19 L700.9,286.28 L702.4,286.40 L703.9,286.53 L705.4,286.67 L706.9,286.84 L708.4,287.02 L709.9,287.21 L711.4,287.43 L712.9,287.65 L714.4,287.90 L715.9,288.16 L717.4,288.43 L718.9,288.72 L720.4,289.03 L721.9,289.35 L723.4,289.68 L724.9,290.03 L726.4,290.39 L727.9,290.77 L729.4,291.16 L730.9,291.57 L732.4,291.98 L733.9,292.42 L735.4,292.86 L736.9,293.32 L738.4,293.79 L739.9,294.27 L741.4,294.77 L742.9,295.28 L744.4,295.80 L745.9,296.33 L747.4,296.88 L748.9,297.43 L750.4,298.00 L751.9,298.58 L753.4,299.17 L754.9,299.77 L756.4,300.38 L757.9,301.00 L759.4,301.64 L760.9,302.28 L762.4,302.93 L763.9,303.60 L765.4,304.27 L766.9,304.95 L768.4,305.64 L769.9,306.34 L771.4,307.05 L772.9,307.77 L774.4,308.50 L775.9,309.23 L777.4,309.97 L778.9,310.73 L780.4,311.48 L781.9,312.25 L783.4,313.03 L784.0,313.34" fill="none" stroke="#C3242C" stroke-width="1.5" stroke-linejoin="round"/>
<line x1="481.9" y1="332.25" x2="784.0" y2="332.25" stroke="#5b3035" stroke-opacity="0.7" stroke-width="0.7" stroke-dasharray="1.5 4.75" stroke-dashoffset="0.75"/>
<line x1="481.0" y1="334.4" x2="784.0" y2="334.4" stroke="#444" stroke-width="1.05"/>
<line x1="481.0" y1="0.0" x2="481.0" y2="334.9" stroke="#222222" stroke-width="1.7"/>
<line x1="494.7" y1="334.4" x2="494.7" y2="338.1" stroke="#333333" stroke-width="1.1"/>
<text transform="translate(494.70,350.65) rotate(0.03)" font-size="11.73" text-anchor="middle">0</text>
<line x1="562.8" y1="334.4" x2="562.8" y2="338.1" stroke="#333333" stroke-width="1.1"/>
<text transform="translate(562.84,350.65) rotate(0.03)" font-size="11.73" text-anchor="middle">25</text>
<line x1="631.0" y1="334.4" x2="631.0" y2="338.1" stroke="#333333" stroke-width="1.1"/>
<text transform="translate(630.97,350.65) rotate(0.03)" font-size="11.73" text-anchor="middle">50</text>
<line x1="699.1" y1="334.4" x2="699.1" y2="338.1" stroke="#333333" stroke-width="1.1"/>
<text transform="translate(699.11,350.65) rotate(0.03)" font-size="11.73" text-anchor="middle">75</text>
<line x1="767.2" y1="334.4" x2="767.2" y2="338.1" stroke="#333333" stroke-width="1.1"/>
<text transform="translate(767.25,350.65) rotate(0.03)" font-size="11.73" text-anchor="middle">100</text>
<line x1="476.8" y1="95.1" x2="481.0" y2="95.1" stroke="#333333" stroke-width="1.1"/>
<line x1="476.8" y1="213.6" x2="481.0" y2="213.6" stroke="#333333" stroke-width="1.1"/>
<line x1="476.8" y1="332.4" x2="481.0" y2="332.4" stroke="#333333" stroke-width="1.1"/>
</g>
<!-- Panel C -->
<g>
<path d="M68.5,511.63 L70.0,509.48 L71.5,507.52 L73.0,505.75 L74.5,504.17 L76.0,502.78 L77.5,501.55 L79.0,500.50 L80.5,499.61 L82.0,498.87 L83.5,498.29 L85.0,497.85 L86.5,497.55 L88.0,497.38 L89.5,497.34 L91.0,497.42 L92.5,497.62 L94.0,497.92 L95.5,498.33 L97.0,498.83 L98.5,499.43 L100.0,500.11 L101.5,500.87 L103.0,501.71 L104.5,502.61 L106.0,503.57 L107.5,504.59 L109.0,505.66 L110.5,506.77 L112.0,507.93 L113.5,509.12 L115.0,510.34 L116.5,511.58 L118.0,512.85 L119.5,514.12 L121.0,515.41 L122.5,516.71 L124.0,518.00 L125.5,519.28 L127.0,520.56 L128.5,521.82 L130.0,523.05 L131.5,524.27 L133.0,525.44 L134.5,526.59 L136.0,527.69 L137.5,528.74 L139.0,529.75 L140.5,530.69 L142.0,531.57 L143.5,532.39 L145.0,533.13 L146.5,533.81 L148.0,534.41 L149.5,534.95 L151.0,535.42 L152.5,535.83 L154.0,536.17 L155.5,536.45 L157.0,536.67 L158.5,536.83 L160.0,536.94 L161.5,536.98 L163.0,536.97 L164.5,536.90 L166.0,536.78 L167.5,536.61 L169.0,536.39 L170.5,536.11 L172.0,535.79 L173.5,535.42 L175.0,535.01 L176.5,534.56 L178.0,534.07 L179.5,533.54 L181.0,532.98 L182.5,532.39 L184.0,531.77 L185.5,531.13 L187.0,530.47 L188.5,529.79 L190.0,529.09 L191.5,528.38 L193.0,527.66 L194.5,526.94 L196.0,526.21 L197.5,525.49 L199.0,524.76 L200.5,524.04 L202.0,523.33 L203.5,522.63 L205.0,521.95 L206.5,521.28 L208.0,520.63 L209.5,520.00 L211.0,519.40 L212.5,518.83 L214.0,518.29 L215.5,517.78 L217.0,517.31 L218.5,516.87 L220.0,516.46 L221.5,516.08 L223.0,515.72 L224.5,515.39 L226.0,515.09 L227.5,514.80 L229.0,514.54 L230.5,514.30 L232.0,514.07 L233.5,513.86 L235.0,513.67 L236.5,513.49 L238.0,513.32 L239.5,513.16 L241.0,513.01 L242.5,512.87 L244.0,512.73 L245.5,512.60 L247.0,512.47 L248.5,512.34 L250.0,512.21 L251.5,512.07 L253.0,511.94 L254.5,511.80 L256.0,511.65 L257.5,511.49 L259.0,511.33 L260.5,511.16 L262.0,510.98 L263.5,510.79 L265.0,510.59 L266.5,510.38 L268.0,510.17 L269.5,509.94 L271.0,509.71 L272.5,509.47 L274.0,509.21 L275.5,508.95 L277.0,508.68 L278.5,508.40 L280.0,508.11 L281.5,507.81 L283.0,507.50 L284.5,507.18 L286.0,506.85 L287.5,506.51 L289.0,506.16 L290.5,505.79 L292.0,505.42 L293.5,505.04 L295.0,504.65 L296.5,504.25 L298.0,503.85 L299.5,503.46 L301.0,503.07 L302.5,502.69 L304.0,502.32 L305.5,501.97 L307.0,501.64 L308.5,501.32 L310.0,501.03 L311.5,500.77 L313.0,500.54 L314.5,500.35 L316.0,500.19 L317.5,500.08 L319.0,500.01 L320.5,499.98 L322.0,500.01 L323.5,500.09 L325.0,500.22 L326.5,500.42 L328.0,500.67 L329.5,500.98 L331.0,501.35 L332.5,501.78 L334.0,502.27 L335.5,502.83 L337.0,503.45 L338.5,504.14 L340.0,504.89 L341.5,505.71 L343.0,506.59 L344.5,507.54 L346.0,508.54 L347.5,509.60 L349.0,510.72 L350.5,511.90 L352.0,513.13 L353.5,514.41 L355.0,515.75 L356.5,517.14 L358.0,518.58 L359.5,520.06 L361.0,521.60 L362.5,523.18 L364.0,524.81 L365.5,526.48 L367.0,528.19 L368.5,529.94 L369.9,531.62 L369.9,564.95 L68.5,564.95 Z" fill="#80B599" fill-opacity="0.46" stroke="none"/>
<path d="M68.5,511.63 L70.0,509.48 L71.5,507.52 L73.0,505.75 L74.5,504.17 L76.0,502.78 L77.5,501.55 L79.0,500.50 L80.5,499.61 L82.0,498.87 L83.5,498.29 L85.0,497.85 L86.5,497.55 L88.0,497.38 L89.5,497.34 L91.0,497.42 L92.5,497.62 L94.0,497.92 L95.5,498.33 L97.0,498.83 L98.5,499.43 L100.0,500.11 L101.5,500.87 L103.0,501.71 L104.5,502.61 L106.0,503.57 L107.5,504.59 L109.0,505.66 L110.5,506.77 L112.0,507.93 L113.5,509.12 L115.0,510.34 L116.5,511.58 L118.0,512.85 L119.5,514.12 L121.0,515.41 L122.5,516.71 L124.0,518.00 L125.5,519.28 L127.0,520.56 L128.5,521.82 L130.0,523.05 L131.5,524.27 L133.0,525.44 L134.5,526.59 L136.0,527.69 L137.5,528.74 L139.0,529.75 L140.5,530.69 L142.0,531.57 L143.5,532.39 L145.0,533.13 L146.5,533.81 L148.0,534.41 L149.5,534.95 L151.0,535.42 L152.5,535.83 L154.0,536.17 L155.5,536.45 L157.0,536.67 L158.5,536.83 L160.0,536.94 L161.5,536.98 L163.0,536.97 L164.5,536.90 L166.0,536.78 L167.5,536.61 L169.0,536.39 L170.5,536.11 L172.0,535.79 L173.5,535.42 L175.0,535.01 L176.5,534.56 L178.0,534.07 L179.5,533.54 L181.0,532.98 L182.5,532.39 L184.0,531.77 L185.5,531.13 L187.0,530.47 L188.5,529.79 L190.0,529.09 L191.5,528.38 L193.0,527.66 L194.5,526.94 L196.0,526.21 L197.5,525.49 L199.0,524.76 L200.5,524.04 L202.0,523.33 L203.5,522.63 L205.0,521.95 L206.5,521.28 L208.0,520.63 L209.5,520.00 L211.0,519.40 L212.5,518.83 L214.0,518.29 L215.5,517.78 L217.0,517.31 L218.5,516.87 L220.0,516.46 L221.5,516.08 L223.0,515.72 L224.5,515.39 L226.0,515.09 L227.5,514.80 L229.0,514.54 L230.5,514.30 L232.0,514.07 L233.5,513.86 L235.0,513.67 L236.5,513.49 L238.0,513.32 L239.5,513.16 L241.0,513.01 L242.5,512.87 L244.0,512.73 L245.5,512.60 L247.0,512.47 L248.5,512.34 L250.0,512.21 L251.5,512.07 L253.0,511.94 L254.5,511.80 L256.0,511.65 L257.5,511.49 L259.0,511.33 L260.5,511.16 L262.0,510.98 L263.5,510.79 L265.0,510.59 L266.5,510.38 L268.0,510.17 L269.5,509.94 L271.0,509.71 L272.5,509.47 L274.0,509.21 L275.5,508.95 L277.0,508.68 L278.5,508.40 L280.0,508.11 L281.5,507.81 L283.0,507.50 L284.5,507.18 L286.0,506.85 L287.5,506.51 L289.0,506.16 L290.5,505.79 L292.0,505.42 L293.5,505.04 L295.0,504.65 L296.5,504.25 L298.0,503.85 L299.5,503.46 L301.0,503.07 L302.5,502.69 L304.0,502.32 L305.5,501.97 L307.0,501.64 L308.5,501.32 L310.0,501.03 L311.5,500.77 L313.0,500.54 L314.5,500.35 L316.0,500.19 L317.5,500.08 L319.0,500.01 L320.5,499.98 L322.0,500.01 L323.5,500.09 L325.0,500.22 L326.5,500.42 L328.0,500.67 L329.5,500.98 L331.0,501.35 L332.5,501.78 L334.0,502.27 L335.5,502.83 L337.0,503.45 L338.5,504.14 L340.0,504.89 L341.5,505.71 L343.0,506.59 L344.5,507.54 L346.0,508.54 L347.5,509.60 L349.0,510.72 L350.5,511.90 L352.0,513.13 L353.5,514.41 L355.0,515.75 L356.5,517.14 L358.0,518.58 L359.5,520.06 L361.0,521.60 L362.5,523.18 L364.0,524.81 L365.5,526.48 L367.0,528.19 L368.5,529.94 L369.9,531.62" fill="none" stroke="#80B599" stroke-width="1.5" stroke-linejoin="round"/>
<line x1="68.5" y1="565.50" x2="369.9" y2="565.50" stroke="#86a594" stroke-opacity="0.7" stroke-width="0.7" stroke-dasharray="1.5 4.75" stroke-dashoffset="0.75"/>
<path d="M68.5,627.64 L70.0,625.27 L71.5,623.08 L73.0,621.08 L74.5,619.26 L76.0,617.63 L77.5,616.17 L79.0,614.89 L80.5,613.78 L82.0,612.84 L83.5,612.07 L85.0,611.46 L86.5,611.02 L88.0,610.74 L89.5,610.62 L91.0,610.66 L92.5,610.84 L94.0,611.18 L95.5,611.65 L97.0,612.25 L98.5,612.97 L100.0,613.80 L101.5,614.74 L103.0,615.77 L104.5,616.89 L106.0,618.09 L107.5,619.37 L109.0,620.70 L110.5,622.10 L112.0,623.55 L113.5,625.05 L115.0,626.59 L116.5,628.16 L118.0,629.76 L119.5,631.38 L121.0,633.01 L122.5,634.65 L124.0,636.30 L125.5,637.94 L127.0,639.57 L128.5,641.19 L130.0,642.78 L131.5,644.34 L133.0,645.87 L134.5,647.35 L136.0,648.79 L137.5,650.17 L139.0,651.49 L140.5,652.75 L142.0,653.93 L143.5,655.04 L145.0,656.08 L146.5,657.06 L148.0,657.96 L149.5,658.80 L151.0,659.57 L152.5,660.27 L154.0,660.90 L155.5,661.47 L157.0,661.98 L158.5,662.42 L160.0,662.79 L161.5,663.11 L163.0,663.36 L164.5,663.55 L166.0,663.67 L167.5,663.74 L169.0,663.75 L170.5,663.70 L172.0,663.59 L173.5,663.43 L175.0,663.22 L176.5,662.97 L178.0,662.67 L179.5,662.33 L181.0,661.95 L182.5,661.53 L184.0,661.08 L185.5,660.60 L187.0,660.08 L188.5,659.55 L190.0,658.99 L191.5,658.41 L193.0,657.81 L194.5,657.19 L196.0,656.57 L197.5,655.93 L199.0,655.28 L200.5,654.63 L202.0,653.98 L203.5,653.33 L205.0,652.68 L206.5,652.04 L208.0,651.41 L209.5,650.78 L211.0,650.15 L212.5,649.54 L214.0,648.92 L215.5,648.32 L217.0,647.72 L218.5,647.12 L220.0,646.53 L221.5,645.95 L223.0,645.37 L224.5,644.80 L226.0,644.23 L227.5,643.67 L229.0,643.11 L230.5,642.55 L232.0,642.00 L233.5,641.46 L235.0,640.92 L236.5,640.38 L238.0,639.85 L239.5,639.32 L241.0,638.79 L242.5,638.27 L244.0,637.75 L245.5,637.24 L247.0,636.73 L248.5,636.22 L250.0,635.71 L251.5,635.21 L253.0,634.71 L254.5,634.22 L256.0,633.72 L257.5,633.23 L259.0,632.74 L260.5,632.25 L262.0,631.76 L263.5,631.28 L265.0,630.79 L266.5,630.31 L268.0,629.83 L269.5,629.34 L271.0,628.86 L272.5,628.38 L274.0,627.90 L275.5,627.41 L277.0,626.93 L278.5,626.44 L280.0,625.96 L281.5,625.47 L283.0,624.99 L284.5,624.50 L286.0,624.01 L287.5,623.51 L289.0,623.02 L290.5,622.52 L292.0,622.02 L293.5,621.52 L295.0,621.01 L296.5,620.50 L298.0,619.99 L299.5,619.47 L301.0,618.95 L302.5,618.43 L304.0,617.90 L305.5,617.38 L307.0,616.86 L308.5,616.34 L310.0,615.85 L311.5,615.37 L313.0,614.91 L314.5,614.48 L316.0,614.07 L317.5,613.70 L319.0,613.37 L320.5,613.08 L322.0,612.84 L323.5,612.65 L325.0,612.51 L326.5,612.42 L328.0,612.40 L329.5,612.45 L331.0,612.57 L332.5,612.76 L334.0,613.03 L335.5,613.38 L337.0,613.82 L338.5,614.35 L340.0,614.97 L341.5,615.69 L343.0,616.52 L344.5,617.44 L346.0,618.46 L347.5,619.56 L349.0,620.75 L350.5,622.01 L352.0,623.33 L353.5,624.71 L355.0,626.15 L356.5,627.64 L358.0,629.16 L359.5,630.72 L361.0,632.31 L362.5,633.92 L364.0,635.54 L365.5,637.17 L367.0,638.80 L368.5,640.43 L369.9,641.94 L369.9,683.80 L68.5,683.80 Z" fill="#C3242C" fill-opacity="0.45" stroke="none"/>
<path d="M68.5,627.64 L70.0,625.27 L71.5,623.08 L73.0,621.08 L74.5,619.26 L76.0,617.63 L77.5,616.17 L79.0,614.89 L80.5,613.78 L82.0,612.84 L83.5,612.07 L85.0,611.46 L86.5,611.02 L88.0,610.74 L89.5,610.62 L91.0,610.66 L92.5,610.84 L94.0,611.18 L95.5,611.65 L97.0,612.25 L98.5,612.97 L100.0,613.80 L101.5,614.74 L103.0,615.77 L104.5,616.89 L106.0,618.09 L107.5,619.37 L109.0,620.70 L110.5,622.10 L112.0,623.55 L113.5,625.05 L115.0,626.59 L116.5,628.16 L118.0,629.76 L119.5,631.38 L121.0,633.01 L122.5,634.65 L124.0,636.30 L125.5,637.94 L127.0,639.57 L128.5,641.19 L130.0,642.78 L131.5,644.34 L133.0,645.87 L134.5,647.35 L136.0,648.79 L137.5,650.17 L139.0,651.49 L140.5,652.75 L142.0,653.93 L143.5,655.04 L145.0,656.08 L146.5,657.06 L148.0,657.96 L149.5,658.80 L151.0,659.57 L152.5,660.27 L154.0,660.90 L155.5,661.47 L157.0,661.98 L158.5,662.42 L160.0,662.79 L161.5,663.11 L163.0,663.36 L164.5,663.55 L166.0,663.67 L167.5,663.74 L169.0,663.75 L170.5,663.70 L172.0,663.59 L173.5,663.43 L175.0,663.22 L176.5,662.97 L178.0,662.67 L179.5,662.33 L181.0,661.95 L182.5,661.53 L184.0,661.08 L185.5,660.60 L187.0,660.08 L188.5,659.55 L190.0,658.99 L191.5,658.41 L193.0,657.81 L194.5,657.19 L196.0,656.57 L197.5,655.93 L199.0,655.28 L200.5,654.63 L202.0,653.98 L203.5,653.33 L205.0,652.68 L206.5,652.04 L208.0,651.41 L209.5,650.78 L211.0,650.15 L212.5,649.54 L214.0,648.92 L215.5,648.32 L217.0,647.72 L218.5,647.12 L220.0,646.53 L221.5,645.95 L223.0,645.37 L224.5,644.80 L226.0,644.23 L227.5,643.67 L229.0,643.11 L230.5,642.55 L232.0,642.00 L233.5,641.46 L235.0,640.92 L236.5,640.38 L238.0,639.85 L239.5,639.32 L241.0,638.79 L242.5,638.27 L244.0,637.75 L245.5,637.24 L247.0,636.73 L248.5,636.22 L250.0,635.71 L251.5,635.21 L253.0,634.71 L254.5,634.22 L256.0,633.72 L257.5,633.23 L259.0,632.74 L260.5,632.25 L262.0,631.76 L263.5,631.28 L265.0,630.79 L266.5,630.31 L268.0,629.83 L269.5,629.34 L271.0,628.86 L272.5,628.38 L274.0,627.90 L275.5,627.41 L277.0,626.93 L278.5,626.44 L280.0,625.96 L281.5,625.47 L283.0,624.99 L284.5,624.50 L286.0,624.01 L287.5,623.51 L289.0,623.02 L290.5,622.52 L292.0,622.02 L293.5,621.52 L295.0,621.01 L296.5,620.50 L298.0,619.99 L299.5,619.47 L301.0,618.95 L302.5,618.43 L304.0,617.90 L305.5,617.38 L307.0,616.86 L308.5,616.34 L310.0,615.85 L311.5,615.37 L313.0,614.91 L314.5,614.48 L316.0,614.07 L317.5,613.70 L319.0,613.37 L320.5,613.08 L322.0,612.84 L323.5,612.65 L325.0,612.51 L326.5,612.42 L328.0,612.40 L329.5,612.45 L331.0,612.57 L332.5,612.76 L334.0,613.03 L335.5,613.38 L337.0,613.82 L338.5,614.35 L340.0,614.97 L341.5,615.69 L343.0,616.52 L344.5,617.44 L346.0,618.46 L347.5,619.56 L349.0,620.75 L350.5,622.01 L352.0,623.33 L353.5,624.71 L355.0,626.15 L356.5,627.64 L358.0,629.16 L359.5,630.72 L361.0,632.31 L362.5,633.92 L364.0,635.54 L365.5,637.17 L367.0,638.80 L368.5,640.43 L369.9,641.94" fill="none" stroke="#C3242C" stroke-width="1.5" stroke-linejoin="round"/>
<line x1="68.5" y1="684.35" x2="369.9" y2="684.35" stroke="#a8585d" stroke-opacity="0.7" stroke-width="0.7" stroke-dasharray="1.5 4.75" stroke-dashoffset="0.75"/>
<path d="M68.5,775.02 L70.0,773.68 L71.5,772.45 L73.0,771.33 L74.5,770.31 L76.0,769.38 L77.5,768.55 L79.0,767.81 L80.5,767.16 L82.0,766.59 L83.5,766.11 L85.0,765.70 L86.5,765.37 L88.0,765.10 L89.5,764.91 L91.0,764.77 L92.5,764.70 L94.0,764.69 L95.5,764.73 L97.0,764.82 L98.5,764.96 L100.0,765.14 L101.5,765.36 L103.0,765.62 L104.5,765.91 L106.0,766.24 L107.5,766.59 L109.0,766.96 L110.5,767.35 L112.0,767.76 L113.5,768.19 L115.0,768.62 L116.5,769.07 L118.0,769.52 L119.5,769.98 L121.0,770.44 L122.5,770.90 L124.0,771.36 L125.5,771.82 L127.0,772.27 L128.5,772.71 L130.0,773.14 L131.5,773.56 L133.0,773.96 L134.5,774.34 L136.0,774.71 L137.5,775.05 L139.0,775.37 L140.5,775.66 L142.0,775.93 L143.5,776.16 L145.0,776.35 L146.5,776.52 L148.0,776.64 L149.5,776.73 L151.0,776.77 L152.5,776.78 L154.0,776.74 L155.5,776.67 L157.0,776.57 L158.5,776.42 L160.0,776.25 L161.5,776.04 L163.0,775.80 L164.5,775.52 L166.0,775.22 L167.5,774.88 L169.0,774.52 L170.5,774.12 L172.0,773.70 L173.5,773.26 L175.0,772.79 L176.5,772.29 L178.0,771.77 L179.5,771.23 L181.0,770.66 L182.5,770.07 L184.0,769.47 L185.5,768.85 L187.0,768.21 L188.5,767.56 L190.0,766.90 L191.5,766.23 L193.0,765.55 L194.5,764.87 L196.0,764.18 L197.5,763.49 L199.0,762.80 L200.5,762.11 L202.0,761.42 L203.5,760.74 L205.0,760.07 L206.5,759.41 L208.0,758.76 L209.5,758.12 L211.0,757.49 L212.5,756.88 L214.0,756.29 L215.5,755.73 L217.0,755.18 L218.5,754.66 L220.0,754.16 L221.5,753.69 L223.0,753.25 L224.5,752.85 L226.0,752.47 L227.5,752.11 L229.0,751.78 L230.5,751.48 L232.0,751.19 L233.5,750.93 L235.0,750.68 L236.5,750.45 L238.0,750.23 L239.5,750.03 L241.0,749.84 L242.5,749.65 L244.0,749.47 L245.5,749.30 L247.0,749.13 L248.5,748.96 L250.0,748.79 L251.5,748.62 L253.0,748.45 L254.5,748.27 L256.0,748.08 L257.5,747.89 L259.0,747.68 L260.5,747.46 L262.0,747.23 L263.5,746.98 L265.0,746.71 L266.5,746.42 L268.0,746.11 L269.5,745.78 L271.0,745.42 L272.5,745.04 L274.0,744.63 L275.5,744.19 L277.0,743.72 L278.5,743.22 L280.0,742.70 L281.5,742.14 L283.0,741.56 L284.5,740.95 L286.0,740.32 L287.5,739.65 L289.0,738.96 L290.5,738.24 L292.0,737.49 L293.5,736.72 L295.0,735.92 L296.5,735.08 L298.0,734.23 L299.5,733.34 L301.0,732.43 L302.5,731.48 L304.0,730.52 L305.5,729.53 L307.0,728.53 L308.5,727.52 L310.0,726.51 L311.5,725.50 L313.0,724.50 L314.5,723.51 L316.0,722.55 L317.5,721.61 L319.0,720.70 L320.5,719.83 L322.0,719.00 L323.5,718.22 L325.0,717.50 L326.5,716.84 L328.0,716.24 L329.5,715.71 L331.0,715.26 L332.5,714.90 L334.0,714.62 L335.5,714.44 L337.0,714.36 L338.5,714.39 L340.0,714.52 L341.5,714.77 L343.0,715.13 L344.5,715.61 L346.0,716.21 L347.5,716.93 L349.0,717.76 L350.5,718.72 L352.0,719.80 L353.5,721.01 L355.0,722.34 L356.5,723.80 L358.0,725.39 L359.5,727.11 L361.0,728.96 L362.5,730.95 L364.0,733.07 L365.5,735.33 L367.0,737.73 L368.5,740.27 L369.9,742.77 L369.9,802.55 L68.5,802.55 Z" fill="#000000" fill-opacity="0.42" stroke="none"/>
<path d="M68.5,775.02 L70.0,773.68 L71.5,772.45 L73.0,771.33 L74.5,770.31 L76.0,769.38 L77.5,768.55 L79.0,767.81 L80.5,767.16 L82.0,766.59 L83.5,766.11 L85.0,765.70 L86.5,765.37 L88.0,765.10 L89.5,764.91 L91.0,764.77 L92.5,764.70 L94.0,764.69 L95.5,764.73 L97.0,764.82 L98.5,764.96 L100.0,765.14 L101.5,765.36 L103.0,765.62 L104.5,765.91 L106.0,766.24 L107.5,766.59 L109.0,766.96 L110.5,767.35 L112.0,767.76 L113.5,768.19 L115.0,768.62 L116.5,769.07 L118.0,769.52 L119.5,769.98 L121.0,770.44 L122.5,770.90 L124.0,771.36 L125.5,771.82 L127.0,772.27 L128.5,772.71 L130.0,773.14 L131.5,773.56 L133.0,773.96 L134.5,774.34 L136.0,774.71 L137.5,775.05 L139.0,775.37 L140.5,775.66 L142.0,775.93 L143.5,776.16 L145.0,776.35 L146.5,776.52 L148.0,776.64 L149.5,776.73 L151.0,776.77 L152.5,776.78 L154.0,776.74 L155.5,776.67 L157.0,776.57 L158.5,776.42 L160.0,776.25 L161.5,776.04 L163.0,775.80 L164.5,775.52 L166.0,775.22 L167.5,774.88 L169.0,774.52 L170.5,774.12 L172.0,773.70 L173.5,773.26 L175.0,772.79 L176.5,772.29 L178.0,771.77 L179.5,771.23 L181.0,770.66 L182.5,770.07 L184.0,769.47 L185.5,768.85 L187.0,768.21 L188.5,767.56 L190.0,766.90 L191.5,766.23 L193.0,765.55 L194.5,764.87 L196.0,764.18 L197.5,763.49 L199.0,762.80 L200.5,762.11 L202.0,761.42 L203.5,760.74 L205.0,760.07 L206.5,759.41 L208.0,758.76 L209.5,758.12 L211.0,757.49 L212.5,756.88 L214.0,756.29 L215.5,755.73 L217.0,755.18 L218.5,754.66 L220.0,754.16 L221.5,753.69 L223.0,753.25 L224.5,752.85 L226.0,752.47 L227.5,752.11 L229.0,751.78 L230.5,751.48 L232.0,751.19 L233.5,750.93 L235.0,750.68 L236.5,750.45 L238.0,750.23 L239.5,750.03 L241.0,749.84 L242.5,749.65 L244.0,749.47 L245.5,749.30 L247.0,749.13 L248.5,748.96 L250.0,748.79 L251.5,748.62 L253.0,748.45 L254.5,748.27 L256.0,748.08 L257.5,747.89 L259.0,747.68 L260.5,747.46 L262.0,747.23 L263.5,746.98 L265.0,746.71 L266.5,746.42 L268.0,746.11 L269.5,745.78 L271.0,745.42 L272.5,745.04 L274.0,744.63 L275.5,744.19 L277.0,743.72 L278.5,743.22 L280.0,742.70 L281.5,742.14 L283.0,741.56 L284.5,740.95 L286.0,740.32 L287.5,739.65 L289.0,738.96 L290.5,738.24 L292.0,737.49 L293.5,736.72 L295.0,735.92 L296.5,735.08 L298.0,734.23 L299.5,733.34 L301.0,732.43 L302.5,731.48 L304.0,730.52 L305.5,729.53 L307.0,728.53 L308.5,727.52 L310.0,726.51 L311.5,725.50 L313.0,724.50 L314.5,723.51 L316.0,722.55 L317.5,721.61 L319.0,720.70 L320.5,719.83 L322.0,719.00 L323.5,718.22 L325.0,717.50 L326.5,716.84 L328.0,716.24 L329.5,715.71 L331.0,715.26 L332.5,714.90 L334.0,714.62 L335.5,714.44 L337.0,714.36 L338.5,714.39 L340.0,714.52 L341.5,714.77 L343.0,715.13 L344.5,715.61 L346.0,716.21 L347.5,716.93 L349.0,717.76 L350.5,718.72 L352.0,719.80 L353.5,721.01 L355.0,722.34 L356.5,723.80 L358.0,725.39 L359.5,727.11 L361.0,728.96 L362.5,730.95 L364.0,733.07 L365.5,735.33 L367.0,737.73 L368.5,740.27 L369.9,742.77" fill="none" stroke="#000000" stroke-width="1.7" stroke-linejoin="round"/>
<line x1="68.5" y1="803.10" x2="369.9" y2="803.10" stroke="#4d4d4d" stroke-opacity="0.7" stroke-width="0.7" stroke-dasharray="1.5 4.75" stroke-dashoffset="0.75"/>
<line x1="67.8" y1="805.4" x2="369.9" y2="805.4" stroke="#444" stroke-width="1.05"/>
<line x1="67.8" y1="471.1" x2="67.8" y2="805.9" stroke="#222222" stroke-width="1.5"/>
<line x1="81.3" y1="805.4" x2="81.3" y2="809.1" stroke="#333333" stroke-width="1.1"/>
<text transform="translate(81.26,821.70) rotate(0.03)" font-size="11.73" text-anchor="middle">0</text>
<line x1="149.3" y1="805.4" x2="149.3" y2="809.1" stroke="#333333" stroke-width="1.1"/>
<text transform="translate(149.32,821.70) rotate(0.03)" font-size="11.73" text-anchor="middle">25</text>
<line x1="217.4" y1="805.4" x2="217.4" y2="809.1" stroke="#333333" stroke-width="1.1"/>
<text transform="translate(217.38,821.70) rotate(0.03)" font-size="11.73" text-anchor="middle">50</text>
<line x1="285.4" y1="805.4" x2="285.4" y2="809.1" stroke="#333333" stroke-width="1.1"/>
<text transform="translate(285.44,821.70) rotate(0.03)" font-size="11.73" text-anchor="middle">75</text>
<line x1="353.5" y1="805.4" x2="353.5" y2="809.1" stroke="#333333" stroke-width="1.1"/>
<text transform="translate(353.50,821.70) rotate(0.03)" font-size="11.73" text-anchor="middle">100</text>
<line x1="63.6" y1="565.6" x2="67.8" y2="565.6" stroke="#333333" stroke-width="1.1"/>
<line x1="63.6" y1="684.5" x2="67.8" y2="684.5" stroke="#333333" stroke-width="1.1"/>
<line x1="63.6" y1="803.2" x2="67.8" y2="803.2" stroke="#333333" stroke-width="1.1"/>
</g>
<!-- Panel D -->
<g>
<path d="M482.5,498.84 L484.0,496.72 L485.5,494.80 L487.0,493.08 L488.5,491.55 L490.0,490.21 L491.5,489.06 L493.0,488.08 L494.5,487.28 L496.0,486.66 L497.5,486.21 L499.0,485.92 L500.5,485.80 L502.0,485.84 L503.5,486.04 L505.0,486.39 L506.5,486.88 L508.0,487.53 L509.5,488.32 L511.0,489.24 L512.5,490.30 L514.0,491.50 L515.5,492.82 L517.0,494.27 L518.5,495.83 L520.0,497.48 L521.5,499.23 L523.0,501.05 L524.5,502.93 L526.0,504.87 L527.5,506.84 L529.0,508.84 L530.5,510.85 L532.0,512.86 L533.5,514.86 L535.0,516.82 L536.5,518.75 L538.0,520.61 L539.5,522.41 L541.0,524.15 L542.5,525.82 L544.0,527.42 L545.5,528.95 L547.0,530.42 L548.5,531.82 L550.0,533.16 L551.5,534.43 L553.0,535.63 L554.5,536.76 L556.0,537.83 L557.5,538.82 L559.0,539.75 L560.5,540.62 L562.0,541.41 L563.5,542.14 L565.0,542.80 L566.5,543.39 L568.0,543.92 L569.5,544.37 L571.0,544.76 L572.5,545.08 L574.0,545.33 L575.5,545.51 L577.0,545.62 L578.5,545.67 L580.0,545.66 L581.5,545.60 L583.0,545.49 L584.5,545.33 L586.0,545.13 L587.5,544.89 L589.0,544.62 L590.5,544.32 L592.0,543.99 L593.5,543.65 L595.0,543.29 L596.5,542.92 L598.0,542.54 L599.5,542.15 L601.0,541.77 L602.5,541.40 L604.0,541.03 L605.5,540.67 L607.0,540.33 L608.5,539.99 L610.0,539.67 L611.5,539.35 L613.0,539.05 L614.5,538.76 L616.0,538.48 L617.5,538.22 L619.0,537.96 L620.5,537.72 L622.0,537.49 L623.5,537.28 L625.0,537.08 L626.5,536.89 L628.0,536.72 L629.5,536.56 L631.0,536.42 L632.5,536.29 L634.0,536.17 L635.5,536.06 L637.0,535.96 L638.5,535.88 L640.0,535.80 L641.5,535.73 L643.0,535.66 L644.5,535.60 L646.0,535.55 L647.5,535.50 L649.0,535.46 L650.5,535.41 L652.0,535.37 L653.5,535.33 L655.0,535.29 L656.5,535.24 L658.0,535.20 L659.5,535.15 L661.0,535.09 L662.5,535.03 L664.0,534.97 L665.5,534.90 L667.0,534.82 L668.5,534.73 L670.0,534.64 L671.5,534.53 L673.0,534.41 L674.5,534.28 L676.0,534.14 L677.5,533.98 L679.0,533.81 L680.5,533.62 L682.0,533.42 L683.5,533.22 L685.0,533.00 L686.5,532.78 L688.0,532.55 L689.5,532.32 L691.0,532.09 L692.5,531.85 L694.0,531.62 L695.5,531.39 L697.0,531.16 L698.5,530.94 L700.0,530.73 L701.5,530.52 L703.0,530.33 L704.5,530.14 L706.0,529.97 L707.5,529.82 L709.0,529.68 L710.5,529.55 L712.0,529.45 L713.5,529.37 L715.0,529.31 L716.5,529.28 L718.0,529.27 L719.5,529.29 L721.0,529.33 L722.5,529.41 L724.0,529.52 L725.5,529.66 L727.0,529.84 L728.5,530.05 L730.0,530.31 L731.5,530.60 L733.0,530.93 L734.5,531.30 L736.0,531.72 L737.5,532.16 L739.0,532.65 L740.5,533.16 L742.0,533.71 L743.5,534.28 L745.0,534.88 L746.5,535.51 L748.0,536.15 L749.5,536.81 L751.0,537.49 L752.5,538.19 L754.0,538.90 L755.5,539.62 L757.0,540.35 L758.5,541.08 L760.0,541.82 L761.5,542.56 L763.0,543.30 L764.5,544.04 L766.0,544.77 L767.5,545.49 L769.0,546.21 L770.5,546.92 L772.0,547.61 L773.5,548.29 L775.0,548.95 L776.5,549.59 L778.0,550.21 L779.5,550.80 L781.0,551.37 L782.5,551.91 L784.0,552.42 L784.0,564.95 L482.5,564.95 Z" fill="#80B599" fill-opacity="0.46" stroke="none"/>
<path d="M482.5,498.84 L484.0,496.72 L485.5,494.80 L487.0,493.08 L488.5,491.55 L490.0,490.21 L491.5,489.06 L493.0,488.08 L494.5,487.28 L496.0,486.66 L497.5,486.21 L499.0,485.92 L500.5,485.80 L502.0,485.84 L503.5,486.04 L505.0,486.39 L506.5,486.88 L508.0,487.53 L509.5,488.32 L511.0,489.24 L512.5,490.30 L514.0,491.50 L515.5,492.82 L517.0,494.27 L518.5,495.83 L520.0,497.48 L521.5,499.23 L523.0,501.05 L524.5,502.93 L526.0,504.87 L527.5,506.84 L529.0,508.84 L530.5,510.85 L532.0,512.86 L533.5,514.86 L535.0,516.82 L536.5,518.75 L538.0,520.61 L539.5,522.41 L541.0,524.15 L542.5,525.82 L544.0,527.42 L545.5,528.95 L547.0,530.42 L548.5,531.82 L550.0,533.16 L551.5,534.43 L553.0,535.63 L554.5,536.76 L556.0,537.83 L557.5,538.82 L559.0,539.75 L560.5,540.62 L562.0,541.41 L563.5,542.14 L565.0,542.80 L566.5,543.39 L568.0,543.92 L569.5,544.37 L571.0,544.76 L572.5,545.08 L574.0,545.33 L575.5,545.51 L577.0,545.62 L578.5,545.67 L580.0,545.66 L581.5,545.60 L583.0,545.49 L584.5,545.33 L586.0,545.13 L587.5,544.89 L589.0,544.62 L590.5,544.32 L592.0,543.99 L593.5,543.65 L595.0,543.29 L596.5,542.92 L598.0,542.54 L599.5,542.15 L601.0,541.77 L602.5,541.40 L604.0,541.03 L605.5,540.67 L607.0,540.33 L608.5,539.99 L610.0,539.67 L611.5,539.35 L613.0,539.05 L614.5,538.76 L616.0,538.48 L617.5,538.22 L619.0,537.96 L620.5,537.72 L622.0,537.49 L623.5,537.28 L625.0,537.08 L626.5,536.89 L628.0,536.72 L629.5,536.56 L631.0,536.42 L632.5,536.29 L634.0,536.17 L635.5,536.06 L637.0,535.96 L638.5,535.88 L640.0,535.80 L641.5,535.73 L643.0,535.66 L644.5,535.60 L646.0,535.55 L647.5,535.50 L649.0,535.46 L650.5,535.41 L652.0,535.37 L653.5,535.33 L655.0,535.29 L656.5,535.24 L658.0,535.20 L659.5,535.15 L661.0,535.09 L662.5,535.03 L664.0,534.97 L665.5,534.90 L667.0,534.82 L668.5,534.73 L670.0,534.64 L671.5,534.53 L673.0,534.41 L674.5,534.28 L676.0,534.14 L677.5,533.98 L679.0,533.81 L680.5,533.62 L682.0,533.42 L683.5,533.22 L685.0,533.00 L686.5,532.78 L688.0,532.55 L689.5,532.32 L691.0,532.09 L692.5,531.85 L694.0,531.62 L695.5,531.39 L697.0,531.16 L698.5,530.94 L700.0,530.73 L701.5,530.52 L703.0,530.33 L704.5,530.14 L706.0,529.97 L707.5,529.82 L709.0,529.68 L710.5,529.55 L712.0,529.45 L713.5,529.37 L715.0,529.31 L716.5,529.28 L718.0,529.27 L719.5,529.29 L721.0,529.33 L722.5,529.41 L724.0,529.52 L725.5,529.66 L727.0,529.84 L728.5,530.05 L730.0,530.31 L731.5,530.60 L733.0,530.93 L734.5,531.30 L736.0,531.72 L737.5,532.16 L739.0,532.65 L740.5,533.16 L742.0,533.71 L743.5,534.28 L745.0,534.88 L746.5,535.51 L748.0,536.15 L749.5,536.81 L751.0,537.49 L752.5,538.19 L754.0,538.90 L755.5,539.62 L757.0,540.35 L758.5,541.08 L760.0,541.82 L761.5,542.56 L763.0,543.30 L764.5,544.04 L766.0,544.77 L767.5,545.49 L769.0,546.21 L770.5,546.92 L772.0,547.61 L773.5,548.29 L775.0,548.95 L776.5,549.59 L778.0,550.21 L779.5,550.80 L781.0,551.37 L782.5,551.91 L784.0,552.42" fill="none" stroke="#80B599" stroke-width="1.5" stroke-linejoin="round"/>
<line x1="482.5" y1="565.50" x2="784.0" y2="565.50" stroke="#86a594" stroke-opacity="0.7" stroke-width="0.7" stroke-dasharray="1.5 4.75" stroke-dashoffset="0.75"/>
<path d="M482.5,609.40 L484.0,606.90 L485.5,604.67 L487.0,602.69 L488.5,600.97 L490.0,599.49 L491.5,598.25 L493.0,597.24 L494.5,596.46 L496.0,595.89 L497.5,595.53 L499.0,595.38 L500.5,595.42 L502.0,595.65 L503.5,596.07 L505.0,596.66 L506.5,597.43 L508.0,598.36 L509.5,599.44 L511.0,600.67 L512.5,602.05 L514.0,603.56 L515.5,605.20 L517.0,606.96 L518.5,608.82 L520.0,610.77 L521.5,612.81 L523.0,614.91 L524.5,617.07 L526.0,619.27 L527.5,621.51 L529.0,623.77 L530.5,626.05 L532.0,628.31 L533.5,630.57 L535.0,632.80 L536.5,634.99 L538.0,637.14 L539.5,639.22 L541.0,641.24 L542.5,643.19 L544.0,645.07 L545.5,646.88 L547.0,648.61 L548.5,650.27 L550.0,651.85 L551.5,653.35 L553.0,654.77 L554.5,656.11 L556.0,657.37 L557.5,658.54 L559.0,659.62 L560.5,660.62 L562.0,661.52 L563.5,662.35 L565.0,663.09 L566.5,663.76 L568.0,664.36 L569.5,664.89 L571.0,665.35 L572.5,665.76 L574.0,666.11 L575.5,666.41 L577.0,666.67 L578.5,666.87 L580.0,667.04 L581.5,667.16 L583.0,667.24 L584.5,667.29 L586.0,667.30 L587.5,667.27 L589.0,667.21 L590.5,667.13 L592.0,667.01 L593.5,666.87 L595.0,666.70 L596.5,666.51 L598.0,666.30 L599.5,666.08 L601.0,665.83 L602.5,665.57 L604.0,665.30 L605.5,665.02 L607.0,664.73 L608.5,664.43 L610.0,664.13 L611.5,663.82 L613.0,663.51 L614.5,663.21 L616.0,662.91 L617.5,662.62 L619.0,662.33 L620.5,662.05 L622.0,661.79 L623.5,661.54 L625.0,661.30 L626.5,661.09 L628.0,660.89 L629.5,660.72 L631.0,660.57 L632.5,660.44 L634.0,660.33 L635.5,660.24 L637.0,660.17 L638.5,660.11 L640.0,660.07 L641.5,660.04 L643.0,660.02 L644.5,660.02 L646.0,660.02 L647.5,660.03 L649.0,660.05 L650.5,660.08 L652.0,660.11 L653.5,660.15 L655.0,660.19 L656.5,660.22 L658.0,660.26 L659.5,660.30 L661.0,660.33 L662.5,660.36 L664.0,660.39 L665.5,660.41 L667.0,660.42 L668.5,660.42 L670.0,660.41 L671.5,660.39 L673.0,660.35 L674.5,660.31 L676.0,660.24 L677.5,660.16 L679.0,660.07 L680.5,659.95 L682.0,659.82 L683.5,659.68 L685.0,659.52 L686.5,659.35 L688.0,659.17 L689.5,658.97 L691.0,658.77 L692.5,658.55 L694.0,658.33 L695.5,658.10 L697.0,657.86 L698.5,657.62 L700.0,657.37 L701.5,657.12 L703.0,656.87 L704.5,656.61 L706.0,656.35 L707.5,656.10 L709.0,655.84 L710.5,655.58 L712.0,655.33 L713.5,655.08 L715.0,654.84 L716.5,654.60 L718.0,654.36 L719.5,654.14 L721.0,653.92 L722.5,653.71 L724.0,653.51 L725.5,653.32 L727.0,653.14 L728.5,652.97 L730.0,652.82 L731.5,652.68 L733.0,652.56 L734.5,652.46 L736.0,652.37 L737.5,652.30 L739.0,652.24 L740.5,652.21 L742.0,652.20 L743.5,652.21 L745.0,652.25 L746.5,652.31 L748.0,652.41 L749.5,652.54 L751.0,652.71 L752.5,652.92 L754.0,653.17 L755.5,653.46 L757.0,653.81 L758.5,654.20 L760.0,654.64 L761.5,655.13 L763.0,655.67 L764.5,656.25 L766.0,656.87 L767.5,657.52 L769.0,658.21 L770.5,658.93 L772.0,659.67 L773.5,660.44 L775.0,661.24 L776.5,662.05 L778.0,662.88 L779.5,663.73 L781.0,664.58 L782.5,665.44 L784.0,666.31 L784.0,683.80 L482.5,683.80 Z" fill="#C3242C" fill-opacity="0.45" stroke="none"/>
<path d="M482.5,609.40 L484.0,606.90 L485.5,604.67 L487.0,602.69 L488.5,600.97 L490.0,599.49 L491.5,598.25 L493.0,597.24 L494.5,596.46 L496.0,595.89 L497.5,595.53 L499.0,595.38 L500.5,595.42 L502.0,595.65 L503.5,596.07 L505.0,596.66 L506.5,597.43 L508.0,598.36 L509.5,599.44 L511.0,600.67 L512.5,602.05 L514.0,603.56 L515.5,605.20 L517.0,606.96 L518.5,608.82 L520.0,610.77 L521.5,612.81 L523.0,614.91 L524.5,617.07 L526.0,619.27 L527.5,621.51 L529.0,623.77 L530.5,626.05 L532.0,628.31 L533.5,630.57 L535.0,632.80 L536.5,634.99 L538.0,637.14 L539.5,639.22 L541.0,641.24 L542.5,643.19 L544.0,645.07 L545.5,646.88 L547.0,648.61 L548.5,650.27 L550.0,651.85 L551.5,653.35 L553.0,654.77 L554.5,656.11 L556.0,657.37 L557.5,658.54 L559.0,659.62 L560.5,660.62 L562.0,661.52 L563.5,662.35 L565.0,663.09 L566.5,663.76 L568.0,664.36 L569.5,664.89 L571.0,665.35 L572.5,665.76 L574.0,666.11 L575.5,666.41 L577.0,666.67 L578.5,666.87 L580.0,667.04 L581.5,667.16 L583.0,667.24 L584.5,667.29 L586.0,667.30 L587.5,667.27 L589.0,667.21 L590.5,667.13 L592.0,667.01 L593.5,666.87 L595.0,666.70 L596.5,666.51 L598.0,666.30 L599.5,666.08 L601.0,665.83 L602.5,665.57 L604.0,665.30 L605.5,665.02 L607.0,664.73 L608.5,664.43 L610.0,664.13 L611.5,663.82 L613.0,663.51 L614.5,663.21 L616.0,662.91 L617.5,662.62 L619.0,662.33 L620.5,662.05 L622.0,661.79 L623.5,661.54 L625.0,661.30 L626.5,661.09 L628.0,660.89 L629.5,660.72 L631.0,660.57 L632.5,660.44 L634.0,660.33 L635.5,660.24 L637.0,660.17 L638.5,660.11 L640.0,660.07 L641.5,660.04 L643.0,660.02 L644.5,660.02 L646.0,660.02 L647.5,660.03 L649.0,660.05 L650.5,660.08 L652.0,660.11 L653.5,660.15 L655.0,660.19 L656.5,660.22 L658.0,660.26 L659.5,660.30 L661.0,660.33 L662.5,660.36 L664.0,660.39 L665.5,660.41 L667.0,660.42 L668.5,660.42 L670.0,660.41 L671.5,660.39 L673.0,660.35 L674.5,660.31 L676.0,660.24 L677.5,660.16 L679.0,660.07 L680.5,659.95 L682.0,659.82 L683.5,659.68 L685.0,659.52 L686.5,659.35 L688.0,659.17 L689.5,658.97 L691.0,658.77 L692.5,658.55 L694.0,658.33 L695.5,658.10 L697.0,657.86 L698.5,657.62 L700.0,657.37 L701.5,657.12 L703.0,656.87 L704.5,656.61 L706.0,656.35 L707.5,656.10 L709.0,655.84 L710.5,655.58 L712.0,655.33 L713.5,655.08 L715.0,654.84 L716.5,654.60 L718.0,654.36 L719.5,654.14 L721.0,653.92 L722.5,653.71 L724.0,653.51 L725.5,653.32 L727.0,653.14 L728.5,652.97 L730.0,652.82 L731.5,652.68 L733.0,652.56 L734.5,652.46 L736.0,652.37 L737.5,652.30 L739.0,652.24 L740.5,652.21 L742.0,652.20 L743.5,652.21 L745.0,652.25 L746.5,652.31 L748.0,652.41 L749.5,652.54 L751.0,652.71 L752.5,652.92 L754.0,653.17 L755.5,653.46 L757.0,653.81 L758.5,654.20 L760.0,654.64 L761.5,655.13 L763.0,655.67 L764.5,656.25 L766.0,656.87 L767.5,657.52 L769.0,658.21 L770.5,658.93 L772.0,659.67 L773.5,660.44 L775.0,661.24 L776.5,662.05 L778.0,662.88 L779.5,663.73 L781.0,664.58 L782.5,665.44 L784.0,666.31" fill="none" stroke="#C3242C" stroke-width="1.5" stroke-linejoin="round"/>
<line x1="482.5" y1="684.35" x2="784.0" y2="684.35" stroke="#a8585d" stroke-opacity="0.7" stroke-width="0.7" stroke-dasharray="1.5 4.75" stroke-dashoffset="0.75"/>
<path d="M482.5,746.50 L484.0,744.51 L485.5,742.71 L487.0,741.10 L488.5,739.66 L490.0,738.40 L491.5,737.31 L493.0,736.39 L494.5,735.62 L496.0,735.01 L497.5,734.55 L499.0,734.24 L500.5,734.06 L502.0,734.02 L503.5,734.11 L505.0,734.32 L506.5,734.65 L508.0,735.09 L509.5,735.65 L511.0,736.31 L512.5,737.07 L514.0,737.92 L515.5,738.86 L517.0,739.89 L518.5,740.99 L520.0,742.17 L521.5,743.41 L523.0,744.71 L524.5,746.07 L526.0,747.46 L527.5,748.89 L529.0,750.35 L530.5,751.83 L532.0,753.32 L533.5,754.82 L535.0,756.33 L536.5,757.82 L538.0,759.30 L539.5,760.76 L541.0,762.18 L542.5,763.58 L544.0,764.92 L545.5,766.22 L547.0,767.46 L548.5,768.65 L550.0,769.78 L551.5,770.86 L553.0,771.89 L554.5,772.87 L556.0,773.80 L557.5,774.68 L559.0,775.51 L560.5,776.30 L562.0,777.04 L563.5,777.73 L565.0,778.38 L566.5,778.98 L568.0,779.55 L569.5,780.07 L571.0,780.55 L572.5,781.00 L574.0,781.40 L575.5,781.77 L577.0,782.10 L578.5,782.39 L580.0,782.65 L581.5,782.88 L583.0,783.07 L584.5,783.23 L586.0,783.36 L587.5,783.46 L589.0,783.53 L590.5,783.58 L592.0,783.59 L593.5,783.58 L595.0,783.55 L596.5,783.49 L598.0,783.40 L599.5,783.30 L601.0,783.17 L602.5,783.02 L604.0,782.85 L605.5,782.67 L607.0,782.46 L608.5,782.24 L610.0,782.01 L611.5,781.76 L613.0,781.49 L614.5,781.21 L616.0,780.91 L617.5,780.60 L619.0,780.27 L620.5,779.92 L622.0,779.56 L623.5,779.18 L625.0,778.79 L626.5,778.38 L628.0,777.95 L629.5,777.51 L631.0,777.05 L632.5,776.58 L634.0,776.10 L635.5,775.62 L637.0,775.13 L638.5,774.65 L640.0,774.18 L641.5,773.71 L643.0,773.25 L644.5,772.80 L646.0,772.37 L647.5,771.96 L649.0,771.56 L650.5,771.17 L652.0,770.80 L653.5,770.44 L655.0,770.09 L656.5,769.76 L658.0,769.44 L659.5,769.13 L661.0,768.83 L662.5,768.54 L664.0,768.27 L665.5,768.00 L667.0,767.75 L668.5,767.50 L670.0,767.27 L671.5,767.04 L673.0,766.82 L674.5,766.62 L676.0,766.42 L677.5,766.22 L679.0,766.04 L680.5,765.87 L682.0,765.70 L683.5,765.54 L685.0,765.38 L686.5,765.23 L688.0,765.09 L689.5,764.95 L691.0,764.82 L692.5,764.69 L694.0,764.57 L695.5,764.45 L697.0,764.33 L698.5,764.23 L700.0,764.12 L701.5,764.03 L703.0,763.94 L704.5,763.85 L706.0,763.78 L707.5,763.71 L709.0,763.66 L710.5,763.61 L712.0,763.57 L713.5,763.55 L715.0,763.53 L716.5,763.53 L718.0,763.54 L719.5,763.56 L721.0,763.60 L722.5,763.65 L724.0,763.71 L725.5,763.79 L727.0,763.89 L728.5,764.00 L730.0,764.13 L731.5,764.28 L733.0,764.44 L734.5,764.62 L736.0,764.82 L737.5,765.04 L739.0,765.28 L740.5,765.55 L742.0,765.83 L743.5,766.13 L745.0,766.46 L746.5,766.81 L748.0,767.18 L749.5,767.57 L751.0,767.98 L752.5,768.42 L754.0,768.87 L755.5,769.35 L757.0,769.85 L758.5,770.37 L760.0,770.91 L761.5,771.47 L763.0,772.05 L764.5,772.65 L766.0,773.28 L767.5,773.92 L769.0,774.58 L770.5,775.27 L772.0,775.97 L773.5,776.69 L775.0,777.44 L776.5,778.20 L778.0,778.98 L779.5,779.78 L781.0,780.60 L782.5,781.44 L784.0,782.30 L784.0,802.55 L482.5,802.55 Z" fill="#000000" fill-opacity="0.42" stroke="none"/>
<path d="M482.5,746.50 L484.0,744.51 L485.5,742.71 L487.0,741.10 L488.5,739.66 L490.0,738.40 L491.5,737.31 L493.0,736.39 L494.5,735.62 L496.0,735.01 L497.5,734.55 L499.0,734.24 L500.5,734.06 L502.0,734.02 L503.5,734.11 L505.0,734.32 L506.5,734.65 L508.0,735.09 L509.5,735.65 L511.0,736.31 L512.5,737.07 L514.0,737.92 L515.5,738.86 L517.0,739.89 L518.5,740.99 L520.0,742.17 L521.5,743.41 L523.0,744.71 L524.5,746.07 L526.0,747.46 L527.5,748.89 L529.0,750.35 L530.5,751.83 L532.0,753.32 L533.5,754.82 L535.0,756.33 L536.5,757.82 L538.0,759.30 L539.5,760.76 L541.0,762.18 L542.5,763.58 L544.0,764.92 L545.5,766.22 L547.0,767.46 L548.5,768.65 L550.0,769.78 L551.5,770.86 L553.0,771.89 L554.5,772.87 L556.0,773.80 L557.5,774.68 L559.0,775.51 L560.5,776.30 L562.0,777.04 L563.5,777.73 L565.0,778.38 L566.5,778.98 L568.0,779.55 L569.5,780.07 L571.0,780.55 L572.5,781.00 L574.0,781.40 L575.5,781.77 L577.0,782.10 L578.5,782.39 L580.0,782.65 L581.5,782.88 L583.0,783.07 L584.5,783.23 L586.0,783.36 L587.5,783.46 L589.0,783.53 L590.5,783.58 L592.0,783.59 L593.5,783.58 L595.0,783.55 L596.5,783.49 L598.0,783.40 L599.5,783.30 L601.0,783.17 L602.5,783.02 L604.0,782.85 L605.5,782.67 L607.0,782.46 L608.5,782.24 L610.0,782.01 L611.5,781.76 L613.0,781.49 L614.5,781.21 L616.0,780.91 L617.5,780.60 L619.0,780.27 L620.5,779.92 L622.0,779.56 L623.5,779.18 L625.0,778.79 L626.5,778.38 L628.0,777.95 L629.5,777.51 L631.0,777.05 L632.5,776.58 L634.0,776.10 L635.5,775.62 L637.0,775.13 L638.5,774.65 L640.0,774.18 L641.5,773.71 L643.0,773.25 L644.5,772.80 L646.0,772.37 L647.5,771.96 L649.0,771.56 L650.5,771.17 L652.0,770.80 L653.5,770.44 L655.0,770.09 L656.5,769.76 L658.0,769.44 L659.5,769.13 L661.0,768.83 L662.5,768.54 L664.0,768.27 L665.5,768.00 L667.0,767.75 L668.5,767.50 L670.0,767.27 L671.5,767.04 L673.0,766.82 L674.5,766.62 L676.0,766.42 L677.5,766.22 L679.0,766.04 L680.5,765.87 L682.0,765.70 L683.5,765.54 L685.0,765.38 L686.5,765.23 L688.0,765.09 L689.5,764.95 L691.0,764.82 L692.5,764.69 L694.0,764.57 L695.5,764.45 L697.0,764.33 L698.5,764.23 L700.0,764.12 L701.5,764.03 L703.0,763.94 L704.5,763.85 L706.0,763.78 L707.5,763.71 L709.0,763.66 L710.5,763.61 L712.0,763.57 L713.5,763.55 L715.0,763.53 L716.5,763.53 L718.0,763.54 L719.5,763.56 L721.0,763.60 L722.5,763.65 L724.0,763.71 L725.5,763.79 L727.0,763.89 L728.5,764.00 L730.0,764.13 L731.5,764.28 L733.0,764.44 L734.5,764.62 L736.0,764.82 L737.5,765.04 L739.0,765.28 L740.5,765.55 L742.0,765.83 L743.5,766.13 L745.0,766.46 L746.5,766.81 L748.0,767.18 L749.5,767.57 L751.0,767.98 L752.5,768.42 L754.0,768.87 L755.5,769.35 L757.0,769.85 L758.5,770.37 L760.0,770.91 L761.5,771.47 L763.0,772.05 L764.5,772.65 L766.0,773.28 L767.5,773.92 L769.0,774.58 L770.5,775.27 L772.0,775.97 L773.5,776.69 L775.0,777.44 L776.5,778.20 L778.0,778.98 L779.5,779.78 L781.0,780.60 L782.5,781.44 L784.0,782.30" fill="none" stroke="#000000" stroke-width="1.7" stroke-linejoin="round"/>
<line x1="482.5" y1="803.10" x2="784.0" y2="803.10" stroke="#4d4d4d" stroke-opacity="0.7" stroke-width="0.7" stroke-dasharray="1.5 4.75" stroke-dashoffset="0.75"/>
<line x1="481.8" y1="805.4" x2="784.0" y2="805.4" stroke="#444" stroke-width="1.05"/>
<line x1="481.8" y1="471.1" x2="481.8" y2="805.9" stroke="#222222" stroke-width="1.5"/>
<line x1="495.3" y1="805.4" x2="495.3" y2="809.1" stroke="#333333" stroke-width="1.1"/>
<text transform="translate(495.26,821.70) rotate(0.03)" font-size="11.73" text-anchor="middle">0</text>
<line x1="563.3" y1="805.4" x2="563.3" y2="809.1" stroke="#333333" stroke-width="1.1"/>
<text transform="translate(563.32,821.70) rotate(0.03)" font-size="11.73" text-anchor="middle">25</text>
<line x1="631.4" y1="805.4" x2="631.4" y2="809.1" stroke="#333333" stroke-width="1.1"/>
<text transform="translate(631.38,821.70) rotate(0.03)" font-size="11.73" text-anchor="middle">50</text>
<line x1="699.4" y1="805.4" x2="699.4" y2="809.1" stroke="#333333" stroke-width="1.1"/>
<text transform="translate(699.44,821.70) rotate(0.03)" font-size="11.73" text-anchor="middle">75</text>
<line x1="767.5" y1="805.4" x2="767.5" y2="809.1" stroke="#333333" stroke-width="1.1"/>
<text transform="translate(767.50,821.70) rotate(0.03)" font-size="11.73" text-anchor="middle">100</text>
<line x1="477.6" y1="565.6" x2="481.8" y2="565.6" stroke="#333333" stroke-width="1.1"/>
<line x1="477.6" y1="684.5" x2="481.8" y2="684.5" stroke="#333333" stroke-width="1.1"/>
<line x1="477.6" y1="803.2" x2="481.8" y2="803.2" stroke="#333333" stroke-width="1.1"/>
</g>
<text transform="translate(60.10,99.15) rotate(0.03)" font-size="11.73" text-anchor="end">Ratio</text>
<text transform="translate(60.10,217.75) rotate(0.03)" font-size="11.73" text-anchor="end">Percent</text>
<text transform="translate(60.10,336.45) rotate(0.03)" font-size="11.73" text-anchor="end">Number</text>
<text transform="translate(474.00,99.15) rotate(0.03)" font-size="11.73" text-anchor="end">Ratio</text>
<text transform="translate(474.00,217.75) rotate(0.03)" font-size="11.73" text-anchor="end">Percent</text>
<text transform="translate(474.00,336.45) rotate(0.03)" font-size="11.73" text-anchor="end">Number</text>
<text transform="translate(60.30,563.00) rotate(0.03)" font-size="11.73" text-anchor="end">Relative</text>
<text transform="translate(60.30,576.10) rotate(0.03)" font-size="11.73" text-anchor="end">Risk</text>
<text transform="translate(60.30,688.65) rotate(0.03)" font-size="11.73" text-anchor="end">Risk</text>
<text transform="translate(60.30,807.60) rotate(0.03)" font-size="11.73" text-anchor="end">None</text>
<text transform="translate(474.20,563.00) rotate(0.03)" font-size="11.73" text-anchor="end">Relative</text>
<text transform="translate(474.20,576.10) rotate(0.03)" font-size="11.73" text-anchor="end">Risk</text>
<text transform="translate(474.20,688.65) rotate(0.03)" font-size="11.73" text-anchor="end">Risk</text>
<text transform="translate(474.20,807.60) rotate(0.03)" font-size="11.73" text-anchor="end">None</text>
<text transform="translate(218.10,367.00) rotate(0.03)" font-size="13.2" text-anchor="middle" textLength="208.2" lengthAdjust="spacing">Change in Aversion to J&amp;J Vaccine</text>
<text transform="translate(632.60,367.00) rotate(0.03)" font-size="13.2" text-anchor="middle" textLength="273.8" lengthAdjust="spacing">Change in Aversion to All COVID-19 Vaccines</text>
<text transform="translate(218.40,837.90) rotate(0.03)" font-size="13.2" text-anchor="middle" textLength="208.2" lengthAdjust="spacing">Change in Aversion to J&amp;J Vaccine</text>
<text transform="translate(632.90,837.90) rotate(0.03)" font-size="13.2" text-anchor="middle" textLength="273.8" lengthAdjust="spacing">Change in Aversion to All COVID-19 Vaccines</text>
<text transform="translate(10.0,167.3) rotate(-90)" font-size="13.2" text-anchor="middle" textLength="77.5" lengthAdjust="spacing">Risk Framing</text>
<text transform="translate(423.6,167.3) rotate(-90)" font-size="13.2" text-anchor="middle" textLength="77.5" lengthAdjust="spacing">Risk Framing</text>
<text transform="translate(10.0,638.2) rotate(-90)" font-size="13.2" text-anchor="middle" textLength="107.6" lengthAdjust="spacing">Visualization Type</text>
<text transform="translate(423.6,638.2) rotate(-90)" font-size="13.2" text-anchor="middle" textLength="107.6" lengthAdjust="spacing">Visualization Type</text>
<text transform="translate(4.4,53.1) scale(0.986,1)" font-size="28.6" font-weight="bold" style="fill:#000">A</text>
<text transform="translate(427.6,53.1) scale(0.85,1)" font-size="28.6" font-weight="bold" style="fill:#000">B</text>
<path d="M20.5,490.75 C19.1,490.05 17.4,489.65 15.5,489.65 C11.3,489.65 8.65,492.7 8.65,497.7 C8.65,502.7 11.3,505.7 15.5,505.7 C17.4,505.7 19.1,505.4 20.5,504.8" fill="none" stroke="#000" stroke-width="4.4" stroke-linecap="butt"/>
<text transform="translate(427.2,507.6) scale(0.96,1)" font-size="28.8" font-weight="bold" style="fill:#000">D</text>
<line x1="220.5" y1="24.0" x2="236.0" y2="24.0" stroke="#C3242C" stroke-width="1.6"/>
<circle cx="228.0" cy="24.0" r="4.6" fill="#C3242C"/>
<line x1="254.5" y1="24.0" x2="266.5" y2="24.0" stroke="#000000" stroke-width="1.6"/>
<circle cx="260.5" cy="24.0" r="4.6" fill="#000000"/>
<line x1="212.5" y1="142.5" x2="226.5" y2="142.5" stroke="#C3242C" stroke-width="1.6"/>
<circle cx="219.2" cy="142.5" r="4.6" fill="#C3242C"/>
<line x1="246.5" y1="142.5" x2="260.0" y2="142.5" stroke="#000000" stroke-width="1.6"/>
<circle cx="253.0" cy="142.5" r="4.6" fill="#000000"/>
<line x1="217.5" y1="261.0" x2="233.0" y2="261.0" stroke="#C3242C" stroke-width="1.6"/>
<circle cx="225.0" cy="261.0" r="4.6" fill="#C3242C"/>
<line x1="263.0" y1="261.0" x2="275.5" y2="261.0" stroke="#000000" stroke-width="1.6"/>
<circle cx="269.2" cy="261.0" r="4.6" fill="#000000"/>
<line x1="588.5" y1="24.0" x2="603.0" y2="24.0" stroke="#C3242C" stroke-width="1.6"/>
<circle cx="595.7" cy="24.0" r="4.6" fill="#C3242C"/>
<line x1="604.0" y1="24.0" x2="618.0" y2="24.0" stroke="#000000" stroke-width="1.6"/>
<circle cx="610.2" cy="24.0" r="4.6" fill="#000000"/>
<line x1="583.5" y1="142.5" x2="597.0" y2="142.5" stroke="#C3242C" stroke-width="1.6"/>
<circle cx="590.2" cy="142.5" r="4.6" fill="#C3242C"/>
<line x1="616.0" y1="142.5" x2="631.5" y2="142.5" stroke="#000000" stroke-width="1.6"/>
<circle cx="623.5" cy="142.5" r="4.6" fill="#000000"/>
<line x1="591.5" y1="261.0" x2="606.0" y2="261.0" stroke="#C3242C" stroke-width="1.6"/>
<circle cx="599.0" cy="261.0" r="4.6" fill="#C3242C"/>
<line x1="604.0" y1="261.0" x2="617.7" y2="261.0" stroke="#000000" stroke-width="1.6"/>
<circle cx="609.7" cy="261.0" r="4.6" fill="#000000"/>
<line x1="211.0" y1="494.5" x2="222.5" y2="494.5" stroke="#80B599" stroke-width="1.6"/>
<circle cx="216.9" cy="494.5" r="4.6" fill="#80B599"/>
<line x1="216.2" y1="613.2" x2="227.5" y2="613.2" stroke="#C3242C" stroke-width="1.6"/>
<circle cx="221.6" cy="613.2" r="4.6" fill="#C3242C"/>
<line x1="247.5" y1="732.0" x2="258.7" y2="732.0" stroke="#000000" stroke-width="1.6"/>
<circle cx="252.8" cy="732.0" r="4.6" fill="#000000"/>
<line x1="586.8" y1="494.5" x2="597.8" y2="494.5" stroke="#80B599" stroke-width="1.6"/>
<circle cx="592.2" cy="494.5" r="4.6" fill="#80B599"/>
<line x1="582.3" y1="613.2" x2="593.3" y2="613.2" stroke="#C3242C" stroke-width="1.6"/>
<circle cx="587.7" cy="613.2" r="4.6" fill="#C3242C"/>
<line x1="602.7" y1="732.0" x2="614.5" y2="732.0" stroke="#000000" stroke-width="1.6"/>
<circle cx="608.5" cy="732.0" r="4.6" fill="#000000"/>
<rect x="102.2" y="390.3" width="589.6" height="41.2" fill="#fff" stroke="#000" stroke-width="1.7"/>
<rect x="122.75" y="399.75" width="26.7" height="22.4" rx="3.3" ry="3.3" fill="#CB8F90" stroke="#C3242C" stroke-width="1.9"/>
<rect x="321.35" y="399.75" width="26.7" height="22.4" rx="3.3" ry="3.3" fill="#C6DACF" stroke="#80B599" stroke-width="1.9"/>
<rect x="519.95" y="399.75" width="26.7" height="22.4" rx="3.3" ry="3.3" fill="#949494" stroke="#000000" stroke-width="1.9"/>
<text transform="translate(162.70,417.0) rotate(0.03)" font-size="15.4" textLength="66.8" lengthAdjust="spacing">Risk Only</text>
<text transform="translate(360.60,417.0) rotate(0.03)" font-size="15.4" textLength="91.6" lengthAdjust="spacing">Relative Risk</text>
<text transform="translate(558.00,417.0) rotate(0.03)" font-size="15.4" textLength="95.6" lengthAdjust="spacing">No Icon Array</text>
</svg>
</body></html>
